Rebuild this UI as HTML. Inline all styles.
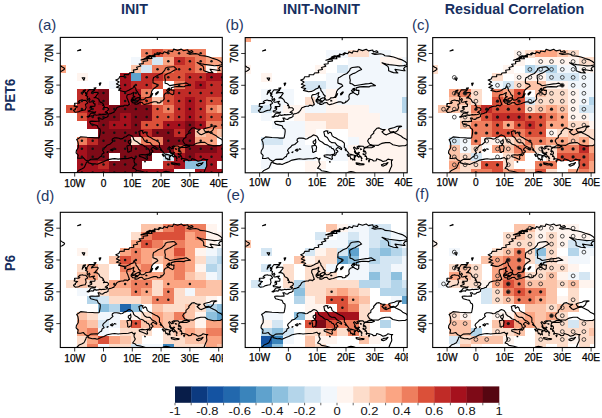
<!DOCTYPE html><html><head><meta charset="utf-8"><style>html,body{margin:0;padding:0;background:#fff}</style></head><body><svg width="602" height="418" viewBox="0 0 602 418" style="display:block;font-family:'Liberation Sans',sans-serif">
<rect width="602" height="418" fill="#fff"/>
<defs><path id="coast" d="M27.8,123.7 L25.1,122.5 L23.0,120.2 L20.4,120.9 L17.3,120.9 L17.9,117.7 L15.8,115.5 L16.1,113.2 L17.9,110.4 L18.1,107.5 L17.6,104.3 L16.4,102.1 L19.0,100.5 L20.4,99.3 L26.8,99.9 L32.3,100.2 L34.6,100.5 L38.0,100.5 L38.9,100.2 L39.7,96.4 L40.0,93.5 L39.7,91.6 L38.0,90.7 L36.9,88.1 L34.3,87.5 L30.5,86.5 L29.4,84.6 L29.7,84.0 L31.7,83.7 L35.1,84.0 L37.4,83.8 L38.9,83.8 L38.6,82.1 L37.7,80.5 L39.5,80.5 L40.0,81.4 L42.3,81.8 L43.5,81.1 L43.8,80.5 L46.4,79.8 L47.8,78.9 L47.8,77.3 L48.7,76.3 L50.1,76.2 L51.6,75.7 L52.4,75.2 L53.6,75.1 L53.9,73.8 L55.0,73.2 L56.7,70.1 L58.8,69.3 L61.1,68.7 L63.4,68.7 L63.9,67.8 L66.2,67.8 L67.1,68.4 L67.7,68.1 L68.3,67.1 L69.1,67.1 L68.8,65.9 L68.0,63.9 L67.4,62.0 L66.5,60.4 L66.5,58.5 L67.1,57.3 L70.6,56.6 L73.7,54.9 L73.4,56.0 L72.9,57.6 L72.9,58.5 L74.6,59.2 L72.9,59.8 L72.6,60.1 L72.0,61.4 L71.1,62.0 L70.8,63.6 L71.4,64.3 L72.6,65.5 L74.9,65.5 L74.6,66.8 L76.3,66.8 L78.0,66.2 L79.2,65.2 L81.8,64.9 L82.9,66.5 L84.4,67.1 L86.4,66.5 L88.1,66.2 L90.7,65.2 L93.6,64.3 L95.9,64.3 L97.3,64.9 L97.1,65.5 L99.1,65.5 L100.8,64.6 L100.5,63.6 L102.2,63.6 L104.0,61.4 L103.7,58.9 L104.0,57.3 L105.1,56.0 L108.3,54.9 L109.7,56.0 L112.3,57.3 L113.5,56.3 L113.5,54.4 L113.8,52.8 L111.2,52.8 L110.9,50.9 L110.9,50.3 L114.6,49.3 L118.1,49.0 L123.8,49.3 L125.3,48.4 L130.2,48.0 L128.7,47.1 L125.9,45.5 L123.3,46.1 L120.7,46.3 L115.2,47.2 L109.4,48.2 L107.1,46.4 L104.8,45.8 L104.8,44.2 L105.1,42.6 L104.5,40.4 L104.5,37.9 L108.0,35.9 L109.7,35.5 L113.5,33.1 L116.4,31.8 L114.0,29.4 L112.6,29.3 L107.1,29.9 L105.1,30.9 L104.5,32.8 L101.7,35.9 L97.9,37.5 L95.0,39.4 L93.3,40.1 L92.7,42.3 L92.7,45.5 L96.5,46.8 L97.6,48.4 L95.3,49.9 L92.7,51.9 L91.3,54.1 L91.3,55.0 L90.4,58.2 L89.3,59.8 L88.1,60.0 L85.5,60.3 L84.4,61.7 L82.9,62.4 L80.9,62.5 L80.4,61.7 L79.8,60.4 L79.5,59.5 L80.1,58.4 L78.3,56.9 L77.5,55.0 L75.7,52.8 L75.5,50.9 L74.6,50.3 L74.0,48.0 L73.2,49.6 L72.6,50.9 L72.0,50.9 L70.6,51.5 L68.5,52.8 L66.2,53.8 L63.4,54.1 L62.2,53.8 L58.2,52.8 L60.5,51.0 L56.1,49.9 L59.7,48.0 L56.1,46.6 L58.9,44.5 L55.5,42.5 L58.5,41.3 L59.5,39.1 L64.0,39.0 L63.9,37.1 L68.4,37.2 L69.3,35.4 L73.6,35.0 L73.0,32.7 L77.3,31.9 L76.3,29.9 L80.6,28.6 L78.9,26.6 L83.0,26.2 L82.8,24.0 L87.4,23.3 L86.4,21.2 L91.7,21.1 L90.6,19.2 L94.8,19.3 L94.2,16.5 L98.6,17.4 L99.0,15.3 L102.6,16.2 L103.8,14.3 L107.1,15.5 L108.0,13.4 L112.3,14.2 L113.4,11.7 L117.3,13.0 L121.0,11.7 L123.3,13.3 L127.5,12.4 L128.2,14.4 L131.6,13.2 L132.8,14.6 L129.6,15.6 L126.7,15.9 L129.6,16.9 L132.5,16.5 L135.4,16.2 L138.2,16.9 L139.7,18.1 L144.0,18.5 L148.3,19.4 L152.6,21.0 L157.0,22.3 L159.8,23.9 L161.9,25.8 L161.3,27.4 L158.4,28.0 L154.1,28.3 L149.8,27.7 L144.0,27.0 L141.1,26.4 L136.8,25.1 L139.7,27.0 L142.6,28.6 L143.4,30.5 L143.4,33.1 L145.4,34.0 L148.3,35.0 L152.6,35.3 L151.2,34.0 L149.8,31.8 L154.1,32.4 L158.4,33.1 L159.8,33.1 L158.4,31.2 L159.8,29.3 L164.2,28.3 M27.8,123.7 L30.5,121.8 L36.3,121.5 L37.2,121.8 L40.3,119.0 L41.2,119.0 L41.8,116.7 L43.8,115.5 L42.3,112.9 L43.2,111.3 L45.8,109.1 L46.7,107.8 L49.5,106.9 L52.7,104.0 L51.8,102.8 L52.1,101.5 L53.9,100.5 L56.4,100.5 L58.8,100.8 L60.2,101.5 L62.2,101.2 L64.2,99.6 L65.7,99.3 L67.7,97.7 L68.8,97.3 L71.4,98.3 L72.9,100.2 L73.4,102.1 L75.2,103.7 L77.2,104.7 L78.6,105.9 L79.5,106.7 L82.4,107.5 L84.1,108.8 L84.4,109.4 L85.8,109.3 L86.4,110.7 L88.1,111.3 L89.3,113.2 L89.6,115.5 L88.3,117.4 L89.6,118.0 L91.0,116.4 L91.0,115.2 L92.7,114.2 L92.2,112.9 L90.7,112.3 L91.0,111.3 L92.7,109.8 L95.0,111.3 L96.2,112.0 L96.5,110.9 L95.0,109.3 L91.9,107.8 L89.9,105.3 L89.0,105.1 L86.4,105.0 L84.1,103.4 L82.1,99.9 L79.5,98.3 L78.9,95.4 L78.6,94.2 L80.9,93.2 L82.9,93.4 L82.1,93.8 L82.9,96.1 L84.7,94.5 L86.1,95.4 L87.0,98.3 L89.0,99.6 L90.4,100.2 L93.0,101.8 L95.3,102.9 L97.1,103.7 L98.2,104.7 L99.1,105.6 L99.2,107.2 L99.1,109.8 L100.5,111.0 L100.8,112.0 L101.4,112.9 L102.8,114.5 L104.0,116.4 L105.7,116.7 L109.2,117.7 L105.7,117.1 L104.5,118.0 L105.4,120.2 L105.7,121.5 L106.8,120.9 L107.7,122.6 L108.3,121.5 L109.7,122.6 L109.4,120.9 L108.9,119.3 L110.3,119.3 L109.4,118.0 L111.2,118.0 L112.3,118.8 L112.3,117.1 L110.3,115.5 L109.2,113.6 L110.3,113.9 L109.2,111.7 L108.3,110.1 L109.2,109.4 L110.6,110.7 L111.5,111.5 L112.3,111.0 L113.5,110.9 L111.7,109.4 L113.5,108.5 L117.8,108.6 L118.4,109.4 L120.1,109.8 L118.7,111.0 L118.7,111.3 L118.4,112.9 L120.1,113.6 L120.7,114.8 L120.7,116.4 L118.9,116.7 L121.0,118.7 L121.8,120.9 L124.4,121.5 L127.0,122.2 L128.4,123.4 L130.8,123.1 L131.6,121.2 L135.4,122.5 L137.7,123.9 L140.8,123.1 L142.8,121.5 L145.4,122.2 L147.5,122.2 L146.3,123.1 L146.3,125.7 L146.6,127.6 L146.3,129.0 L145.4,130.7 L144.6,132.7 L144.0,134.2 L143.4,136.8 M118.7,111.3 L120.1,110.1 L122.4,110.1 L126.4,110.1 L129.3,109.0 L126.7,108.2 L123.8,108.2 L121.8,109.1 L120.1,109.8 M127.0,107.5 L124.4,106.6 L122.4,103.4 L123.6,101.2 L125.6,100.2 L125.7,98.0 L128.7,95.4 L128.4,94.2 L131.6,90.7 L133.9,90.3 L135.4,91.3 L137.1,91.9 L140.0,91.9 L136.8,94.2 L139.4,96.7 L141.1,97.3 L141.7,97.0 L145.2,95.4 L148.3,94.8 L148.6,94.0 L145.2,94.5 L144.0,92.9 L143.4,91.6 L144.9,91.0 L149.2,89.9 L151.5,88.8 L155.2,88.4 L156.4,88.8 L153.5,90.0 L152.9,92.3 L150.9,94.2 L148.9,94.8 L150.6,95.8 L152.1,96.4 L155.8,98.3 L157.5,99.9 L161.3,101.8 L163.2,104.5 L163.0,106.1 L162.1,106.9 L159.8,108.2 L157.5,108.2 L153.8,108.5 L152.4,108.2 L147.7,107.2 L144.6,105.0 L140.5,105.0 L136.5,105.8 L134.8,106.7 L133.1,107.8 L130.2,107.7 L127.0,107.5 M15.6,136.8 L16.4,135.2 L18.7,132.8 L21.3,131.7 L23.6,130.4 L24.2,129.5 L25.5,126.6 L26.2,124.7 L27.9,124.4 L27.9,125.3 L32.0,126.5 L34.7,126.3 L36.9,126.9 L41.3,125.0 L43.5,124.2 L46.9,122.5 L52.0,121.5 L54.4,121.2 L57.9,121.7 L59.9,121.5 L63.1,121.2 L65.5,121.2 L68.0,121.0 L71.6,119.9 L72.9,121.4 L75.0,120.7 L73.7,122.8 L73.9,124.7 L75.0,126.6 L74.2,128.2 L72.3,130.7 L74.6,131.4 L75.2,132.0 L76.3,133.1 L81.2,133.9 L84.4,134.9 L86.7,135.8 M101.4,136.2 L102.5,135.0 L103.7,134.4 L105.7,133.9 L108.4,134.4 L109.7,134.9 L112.3,136.8 M26.8,79.4 L28.8,78.3 L30.2,76.3 L31.1,75.7 L34.6,75.7 L35.4,74.4 L34.0,74.9 L31.7,74.4 L28.5,74.3 L27.9,73.5 L29.7,72.8 L31.4,71.9 L31.4,70.3 L29.5,70.6 L30.8,69.5 L30.0,68.9 L31.4,69.0 L34.3,68.9 L34.6,68.6 L34.8,66.5 L34.0,66.5 L32.8,65.2 L34.3,63.8 L32.8,63.9 L30.5,64.6 L29.1,64.7 L28.5,63.6 L29.7,62.2 L29.1,60.8 L27.1,62.7 L26.8,60.8 L27.4,59.2 L25.3,58.2 L26.5,57.3 L26.5,55.4 L27.9,53.4 L28.8,52.2 L31.7,52.3 L34.4,52.0 L34.3,52.8 L31.7,54.4 L31.1,55.7 L33.4,55.0 L37.4,55.0 L38.0,55.7 L37.2,56.8 L36.0,58.5 L35.1,59.2 L35.7,59.5 L33.7,60.4 L35.7,60.3 L37.2,60.8 L37.4,61.1 L38.6,62.0 L39.2,63.6 L40.0,64.7 L41.5,65.2 L42.9,66.5 L43.5,68.1 L42.3,67.8 L43.8,68.6 L44.2,69.7 L43.2,70.3 L44.4,70.1 L46.9,70.1 L48.2,71.3 L48.2,71.7 L47.8,72.8 L46.9,73.5 L45.8,74.0 L44.9,74.8 L47.2,75.1 L47.1,76.0 L45.9,76.7 L43.9,77.1 L42.9,77.0 L40.9,77.3 L39.5,77.0 L38.6,77.3 L36.3,77.8 L34.8,77.3 L33.4,77.6 L32.8,78.9 L31.4,78.4 L29.4,78.9 L28.2,79.7 L26.8,79.4 M21.9,62.4 L23.3,63.0 L25.5,63.0 L26.8,64.6 L27.4,65.5 L26.2,66.5 L25.1,66.8 L25.6,68.9 L25.9,70.0 L25.3,71.3 L24.9,72.5 L23.0,72.7 L20.6,73.3 L19.3,73.8 L18.4,74.4 L15.0,74.9 L13.8,73.8 L13.2,72.8 L15.0,72.2 L15.3,71.3 L14.7,71.4 L16.1,70.0 L17.3,69.3 L13.8,68.7 L14.7,67.1 L14.1,66.8 L14.4,65.9 L16.7,65.9 L18.7,65.9 L19.6,64.9 L17.9,64.6 L19.3,63.1 L21.9,62.4 M-2.9,34.7 L0.0,34.0 L1.4,33.7 L3.5,32.4 L4.3,31.5 L3.7,30.5 L2.0,29.6 L0.6,28.6 L-0.6,28.0 L-2.9,27.4 M78.9,117.7 L81.8,117.1 L85.0,117.5 L88.1,116.7 L86.7,119.3 L87.3,120.9 L86.7,122.0 L84.4,120.9 L82.1,119.9 L79.2,119.0 L78.9,117.7 M69.7,107.4 L71.1,108.5 L71.4,109.8 L71.0,111.7 L70.8,113.9 L69.4,113.9 L68.7,114.8 L67.4,114.5 L67.4,111.7 L66.7,109.4 L66.8,108.3 L68.5,108.2 L69.7,107.4 M70.3,101.8 L70.7,104.7 L69.7,106.9 L68.0,105.3 L68.0,103.7 L70.0,102.8 L70.3,101.8 M110.9,125.3 L112.6,125.5 L115.2,126.0 L117.5,126.3 L118.9,126.5 L118.4,127.2 L114.6,127.4 L111.2,126.5 L110.9,125.3 M136.2,127.1 L138.0,126.6 L138.2,126.1 L140.8,126.0 L142.8,125.0 L141.1,127.2 L138.2,128.5 L136.5,128.0 L136.2,127.1 M50.1,112.6 L52.1,111.5 L53.1,112.3 L52.0,113.6 L50.1,112.6 M46.7,114.8 L47.8,114.2 L47.2,115.0 L46.7,114.8 M54.1,111.2 L55.6,111.7 L54.4,111.7 L54.1,111.2 M75.2,61.4 L77.8,60.1 L79.5,60.4 L79.5,61.7 L78.3,63.0 L77.2,63.6 L75.5,63.0 L75.2,61.4 M71.4,62.0 L73.7,61.7 L74.3,63.0 L72.3,63.5 L71.4,62.0 M74.9,64.1 L77.5,64.4 L76.0,64.7 L74.9,64.1 M95.3,56.3 L97.3,54.4 L98.2,54.4 L97.3,56.0 L95.6,57.4 L95.3,56.3 M90.4,59.8 L92.4,56.1 L91.9,57.3 L90.4,59.8 M106.3,53.1 L107.1,52.2 L110.0,52.2 L109.4,53.0 L107.1,54.1 L106.3,53.1 M107.7,51.2 L109.2,50.7 L109.4,51.5 L107.7,51.2 M109.4,114.5 L111.2,115.3 L112.9,115.8 L113.9,117.2 L112.3,116.6 L110.6,116.1 L109.4,114.5 M123.3,123.1 L124.4,122.8 L123.8,124.4 L123.3,123.1 M118.1,113.6 L119.5,113.6 L118.9,114.5 L118.1,113.6 M117.8,116.1 L118.4,116.1 L118.1,117.1 L117.8,116.1 M85.8,62.7 L86.7,63.3 L85.5,63.3 L85.8,62.7 M21.9,40.4 L24.5,40.4 L23.6,42.9 L21.9,40.4 M38.9,45.8 L40.6,45.5 L39.5,48.0 L38.9,45.8 M33.7,50.6 L35.7,50.3 L34.8,51.5 L33.7,50.6 M23.0,53.1 L25.3,52.5 L23.6,54.7 L22.2,56.0 L21.9,56.9 L23.0,53.1 M25.1,55.0 L25.3,56.6 L26.8,56.3 L25.1,55.0 M17.3,13.4 L20.2,12.1 L20.4,12.7 L17.3,13.4 M97.9,15.9 L100.2,15.3 L99.4,16.5 L97.9,15.9 M83.5,21.6 L87.8,19.4 L89.3,19.7 L85.8,21.6 L80.6,22.6 L83.5,21.6 M86.4,19.4 L89.3,18.1 L92.2,18.5 L86.4,19.4 M92.2,18.1 L95.0,17.2 L93.6,18.8 L92.2,18.1 M114.3,118.0 L115.2,118.7 L114.6,119.0 L114.3,118.0 M116.1,120.6 L116.9,120.6 L116.5,121.2 L116.1,120.6 M115.5,119.3 L116.4,119.5 L115.8,119.8 L115.5,119.3 M113.2,119.0 L113.8,119.5 L113.2,119.6 L113.2,119.0 M116.1,122.6 L116.6,122.8 L116.4,123.0 L116.1,122.6 M120.4,118.5 L121.1,118.7 L119.8,118.8 L120.4,118.5 M121.0,121.2 L121.8,121.5 L121.2,122.0 L121.0,121.2 M115.2,111.3 L116.4,111.7 L115.5,112.0 L115.2,111.3 M113.8,109.1 L114.6,109.1 L114.0,109.4 L113.8,109.1 M113.5,114.7 L114.3,115.2 L113.8,115.3 L113.5,114.7 M102.2,116.7 L103.1,117.4 L102.2,117.5 L102.0,117.1 L102.2,116.7 M99.9,112.1 L100.7,113.1 L101.1,113.2 L100.4,112.1 L99.9,112.1 M102.8,118.2 L103.7,118.7 L103.1,118.8 L102.8,118.2 M84.4,123.9 L85.1,124.4 L84.5,124.5 L84.4,123.9" fill="none" stroke="#000" stroke-width="1.12" stroke-linejoin="round" stroke-linecap="round"/>
<clipPath id="clip"><rect x="0" y="0" width="162.0" height="135.2"/></clipPath><clipPath id="clipt"><rect x="-60" y="-10" width="222.6" height="175.2"/></clipPath></defs>
<g transform="translate(60.3,37.4)">
<g clip-path="url(#clip)">
<g shape-rendering="crispEdges">
<rect x="81.00" y="11.93" width="11.10" height="8.25" fill="#ee7e5e"/>
<rect x="91.80" y="11.93" width="11.10" height="8.25" fill="#db5039"/>
<rect x="102.60" y="11.93" width="11.10" height="8.25" fill="#ee7e5e"/>
<rect x="113.40" y="11.93" width="11.10" height="8.25" fill="#ee7e5e"/>
<rect x="124.20" y="11.93" width="11.10" height="8.25" fill="#ee7e5e"/>
<rect x="135.00" y="11.93" width="11.10" height="8.25" fill="#ee7e5e"/>
<rect x="70.20" y="19.88" width="11.10" height="8.25" fill="#f2f7fc"/>
<rect x="81.00" y="19.88" width="11.10" height="8.25" fill="#fba583"/>
<rect x="91.80" y="19.88" width="11.10" height="8.25" fill="#d4e6f3"/>
<rect x="102.60" y="19.88" width="11.10" height="8.25" fill="#fba583"/>
<rect x="113.40" y="19.88" width="11.10" height="8.25" fill="#c02b27"/>
<rect x="124.20" y="19.88" width="11.10" height="8.25" fill="#db5039"/>
<rect x="135.00" y="19.88" width="11.10" height="8.25" fill="#ee7e5e"/>
<rect x="145.80" y="19.88" width="11.10" height="8.25" fill="#fba583"/>
<rect x="156.60" y="19.88" width="11.10" height="8.25" fill="#fba583"/>
<rect x="-5.40" y="27.84" width="11.10" height="8.25" fill="#fba583"/>
<rect x="70.20" y="27.84" width="11.10" height="8.25" fill="#fcc3a8"/>
<rect x="81.00" y="27.84" width="11.10" height="8.25" fill="#d4e6f3"/>
<rect x="91.80" y="27.84" width="11.10" height="8.25" fill="#ee7e5e"/>
<rect x="102.60" y="27.84" width="11.10" height="8.25" fill="#ee7e5e"/>
<rect x="113.40" y="27.84" width="11.10" height="8.25" fill="#db5039"/>
<rect x="124.20" y="27.84" width="11.10" height="8.25" fill="#db5039"/>
<rect x="135.00" y="27.84" width="11.10" height="8.25" fill="#ee7e5e"/>
<rect x="145.80" y="27.84" width="11.10" height="8.25" fill="#fff4ee"/>
<rect x="156.60" y="27.84" width="11.10" height="8.25" fill="#fba583"/>
<rect x="16.20" y="35.79" width="11.10" height="8.25" fill="#fff4ee"/>
<rect x="59.40" y="35.79" width="11.10" height="8.25" fill="#a5111d"/>
<rect x="70.20" y="35.79" width="11.10" height="8.25" fill="#5fa2cd"/>
<rect x="81.00" y="35.79" width="11.10" height="8.25" fill="#c02b27"/>
<rect x="91.80" y="35.79" width="11.10" height="8.25" fill="#c02b27"/>
<rect x="102.60" y="35.79" width="11.10" height="8.25" fill="#db5039"/>
<rect x="113.40" y="35.79" width="11.10" height="8.25" fill="#db5039"/>
<rect x="124.20" y="35.79" width="11.10" height="8.25" fill="#c02b27"/>
<rect x="135.00" y="35.79" width="11.10" height="8.25" fill="#c02b27"/>
<rect x="145.80" y="35.79" width="11.10" height="8.25" fill="#a5111d"/>
<rect x="156.60" y="35.79" width="11.10" height="8.25" fill="#a5111d"/>
<rect x="48.60" y="43.74" width="11.10" height="8.25" fill="#f2f7fc"/>
<rect x="59.40" y="43.74" width="11.10" height="8.25" fill="#a5111d"/>
<rect x="70.20" y="43.74" width="11.10" height="8.25" fill="#c02b27"/>
<rect x="81.00" y="43.74" width="11.10" height="8.25" fill="#c02b27"/>
<rect x="91.80" y="43.74" width="11.10" height="8.25" fill="#db5039"/>
<rect x="113.40" y="43.74" width="11.10" height="8.25" fill="#ee7e5e"/>
<rect x="124.20" y="43.74" width="11.10" height="8.25" fill="#c02b27"/>
<rect x="135.00" y="43.74" width="11.10" height="8.25" fill="#a5111d"/>
<rect x="145.80" y="43.74" width="11.10" height="8.25" fill="#c02b27"/>
<rect x="156.60" y="43.74" width="11.10" height="8.25" fill="#c02b27"/>
<rect x="16.20" y="51.69" width="11.10" height="8.25" fill="#c02b27"/>
<rect x="27.00" y="51.69" width="11.10" height="8.25" fill="#a5111d"/>
<rect x="37.80" y="51.69" width="11.10" height="8.25" fill="#7e0a17"/>
<rect x="59.40" y="51.69" width="11.10" height="8.25" fill="#a5111d"/>
<rect x="70.20" y="51.69" width="11.10" height="8.25" fill="#a5111d"/>
<rect x="81.00" y="51.69" width="11.10" height="8.25" fill="#ee7e5e"/>
<rect x="102.60" y="51.69" width="11.10" height="8.25" fill="#db5039"/>
<rect x="113.40" y="51.69" width="11.10" height="8.25" fill="#c02b27"/>
<rect x="124.20" y="51.69" width="11.10" height="8.25" fill="#c02b27"/>
<rect x="135.00" y="51.69" width="11.10" height="8.25" fill="#c02b27"/>
<rect x="145.80" y="51.69" width="11.10" height="8.25" fill="#c02b27"/>
<rect x="156.60" y="51.69" width="11.10" height="8.25" fill="#c02b27"/>
<rect x="16.20" y="59.65" width="11.10" height="8.25" fill="#c02b27"/>
<rect x="27.00" y="59.65" width="11.10" height="8.25" fill="#a5111d"/>
<rect x="37.80" y="59.65" width="11.10" height="8.25" fill="#7e0a17"/>
<rect x="59.40" y="59.65" width="11.10" height="8.25" fill="#a5111d"/>
<rect x="70.20" y="59.65" width="11.10" height="8.25" fill="#7e0a17"/>
<rect x="81.00" y="59.65" width="11.10" height="8.25" fill="#db5039"/>
<rect x="91.80" y="59.65" width="11.10" height="8.25" fill="#fcc3a8"/>
<rect x="102.60" y="59.65" width="11.10" height="8.25" fill="#db5039"/>
<rect x="113.40" y="59.65" width="11.10" height="8.25" fill="#c02b27"/>
<rect x="124.20" y="59.65" width="11.10" height="8.25" fill="#a5111d"/>
<rect x="135.00" y="59.65" width="11.10" height="8.25" fill="#c02b27"/>
<rect x="145.80" y="59.65" width="11.10" height="8.25" fill="#db5039"/>
<rect x="156.60" y="59.65" width="11.10" height="8.25" fill="#db5039"/>
<rect x="5.40" y="67.60" width="11.10" height="8.25" fill="#db5039"/>
<rect x="16.20" y="67.60" width="11.10" height="8.25" fill="#c02b27"/>
<rect x="27.00" y="67.60" width="11.10" height="8.25" fill="#a5111d"/>
<rect x="37.80" y="67.60" width="11.10" height="8.25" fill="#a5111d"/>
<rect x="48.60" y="67.60" width="11.10" height="8.25" fill="#7e0a17"/>
<rect x="59.40" y="67.60" width="11.10" height="8.25" fill="#7e0a17"/>
<rect x="70.20" y="67.60" width="11.10" height="8.25" fill="#7e0a17"/>
<rect x="81.00" y="67.60" width="11.10" height="8.25" fill="#7e0a17"/>
<rect x="91.80" y="67.60" width="11.10" height="8.25" fill="#db5039"/>
<rect x="102.60" y="67.60" width="11.10" height="8.25" fill="#ee7e5e"/>
<rect x="113.40" y="67.60" width="11.10" height="8.25" fill="#c02b27"/>
<rect x="124.20" y="67.60" width="11.10" height="8.25" fill="#a5111d"/>
<rect x="135.00" y="67.60" width="11.10" height="8.25" fill="#c02b27"/>
<rect x="145.80" y="67.60" width="11.10" height="8.25" fill="#ee7e5e"/>
<rect x="156.60" y="67.60" width="11.10" height="8.25" fill="#fba583"/>
<rect x="16.20" y="75.55" width="11.10" height="8.25" fill="#db5039"/>
<rect x="27.00" y="75.55" width="11.10" height="8.25" fill="#a5111d"/>
<rect x="37.80" y="75.55" width="11.10" height="8.25" fill="#7e0a17"/>
<rect x="48.60" y="75.55" width="11.10" height="8.25" fill="#7e0a17"/>
<rect x="59.40" y="75.55" width="11.10" height="8.25" fill="#a5111d"/>
<rect x="70.20" y="75.55" width="11.10" height="8.25" fill="#7e0a17"/>
<rect x="81.00" y="75.55" width="11.10" height="8.25" fill="#7e0a17"/>
<rect x="91.80" y="75.55" width="11.10" height="8.25" fill="#db5039"/>
<rect x="102.60" y="75.55" width="11.10" height="8.25" fill="#db5039"/>
<rect x="113.40" y="75.55" width="11.10" height="8.25" fill="#c02b27"/>
<rect x="124.20" y="75.55" width="11.10" height="8.25" fill="#a5111d"/>
<rect x="135.00" y="75.55" width="11.10" height="8.25" fill="#c02b27"/>
<rect x="145.80" y="75.55" width="11.10" height="8.25" fill="#db5039"/>
<rect x="156.60" y="75.55" width="11.10" height="8.25" fill="#db5039"/>
<rect x="27.00" y="83.51" width="11.10" height="8.25" fill="#a5111d"/>
<rect x="37.80" y="83.51" width="11.10" height="8.25" fill="#7e0a17"/>
<rect x="48.60" y="83.51" width="11.10" height="8.25" fill="#a5111d"/>
<rect x="59.40" y="83.51" width="11.10" height="8.25" fill="#a5111d"/>
<rect x="70.20" y="83.51" width="11.10" height="8.25" fill="#7e0a17"/>
<rect x="81.00" y="83.51" width="11.10" height="8.25" fill="#db5039"/>
<rect x="91.80" y="83.51" width="11.10" height="8.25" fill="#db5039"/>
<rect x="102.60" y="83.51" width="11.10" height="8.25" fill="#a5111d"/>
<rect x="113.40" y="83.51" width="11.10" height="8.25" fill="#a5111d"/>
<rect x="124.20" y="83.51" width="11.10" height="8.25" fill="#7e0a17"/>
<rect x="135.00" y="83.51" width="11.10" height="8.25" fill="#a5111d"/>
<rect x="145.80" y="83.51" width="11.10" height="8.25" fill="#ee7e5e"/>
<rect x="156.60" y="83.51" width="11.10" height="8.25" fill="#ee7e5e"/>
<rect x="37.80" y="91.46" width="11.10" height="8.25" fill="#7e0a17"/>
<rect x="48.60" y="91.46" width="11.10" height="8.25" fill="#7e0a17"/>
<rect x="59.40" y="91.46" width="11.10" height="8.25" fill="#7e0a17"/>
<rect x="70.20" y="91.46" width="11.10" height="8.25" fill="#7e0a17"/>
<rect x="81.00" y="91.46" width="11.10" height="8.25" fill="#c02b27"/>
<rect x="91.80" y="91.46" width="11.10" height="8.25" fill="#7e0a17"/>
<rect x="102.60" y="91.46" width="11.10" height="8.25" fill="#7e0a17"/>
<rect x="113.40" y="91.46" width="11.10" height="8.25" fill="#c02b27"/>
<rect x="124.20" y="91.46" width="11.10" height="8.25" fill="#7e0a17"/>
<rect x="135.00" y="91.46" width="11.10" height="8.25" fill="#fcc3a8"/>
<rect x="145.80" y="91.46" width="11.10" height="8.25" fill="#fba583"/>
<rect x="156.60" y="91.46" width="11.10" height="8.25" fill="#fcc3a8"/>
<rect x="16.20" y="99.41" width="11.10" height="8.25" fill="#ee7e5e"/>
<rect x="27.00" y="99.41" width="11.10" height="8.25" fill="#c02b27"/>
<rect x="37.80" y="99.41" width="11.10" height="8.25" fill="#7e0a17"/>
<rect x="48.60" y="99.41" width="11.10" height="8.25" fill="#7e0a17"/>
<rect x="59.40" y="99.41" width="11.10" height="8.25" fill="#7e0a17"/>
<rect x="70.20" y="99.41" width="11.10" height="8.25" fill="#fdddcb"/>
<rect x="81.00" y="99.41" width="11.10" height="8.25" fill="#ee7e5e"/>
<rect x="91.80" y="99.41" width="11.10" height="8.25" fill="#ee7e5e"/>
<rect x="102.60" y="99.41" width="11.10" height="8.25" fill="#7e0a17"/>
<rect x="113.40" y="99.41" width="11.10" height="8.25" fill="#7e0a17"/>
<rect x="124.20" y="99.41" width="11.10" height="8.25" fill="#7e0a17"/>
<rect x="135.00" y="99.41" width="11.10" height="8.25" fill="#fba583"/>
<rect x="145.80" y="99.41" width="11.10" height="8.25" fill="#fba583"/>
<rect x="16.20" y="107.36" width="11.10" height="8.25" fill="#a5111d"/>
<rect x="27.00" y="107.36" width="11.10" height="8.25" fill="#7e0a17"/>
<rect x="37.80" y="107.36" width="11.10" height="8.25" fill="#7e0a17"/>
<rect x="48.60" y="107.36" width="11.10" height="8.25" fill="#7e0a17"/>
<rect x="59.40" y="107.36" width="11.10" height="8.25" fill="#7e0a17"/>
<rect x="70.20" y="107.36" width="11.10" height="8.25" fill="#7e0a17"/>
<rect x="81.00" y="107.36" width="11.10" height="8.25" fill="#7e0a17"/>
<rect x="91.80" y="107.36" width="11.10" height="8.25" fill="#7e0a17"/>
<rect x="102.60" y="107.36" width="11.10" height="8.25" fill="#7e0a17"/>
<rect x="113.40" y="107.36" width="11.10" height="8.25" fill="#db5039"/>
<rect x="124.20" y="107.36" width="11.10" height="8.25" fill="#7e0a17"/>
<rect x="135.00" y="107.36" width="11.10" height="8.25" fill="#7e0a17"/>
<rect x="145.80" y="107.36" width="11.10" height="8.25" fill="#7e0a17"/>
<rect x="156.60" y="107.36" width="11.10" height="8.25" fill="#a5111d"/>
<rect x="16.20" y="115.32" width="11.10" height="8.25" fill="#a5111d"/>
<rect x="27.00" y="115.32" width="11.10" height="8.25" fill="#7e0a17"/>
<rect x="37.80" y="115.32" width="11.10" height="8.25" fill="#7e0a17"/>
<rect x="59.40" y="115.32" width="11.10" height="8.25" fill="#7e0a17"/>
<rect x="70.20" y="115.32" width="11.10" height="8.25" fill="#7e0a17"/>
<rect x="81.00" y="115.32" width="11.10" height="8.25" fill="#7e0a17"/>
<rect x="102.60" y="115.32" width="11.10" height="8.25" fill="#d4e6f3"/>
<rect x="113.40" y="115.32" width="11.10" height="8.25" fill="#a5111d"/>
<rect x="124.20" y="115.32" width="11.10" height="8.25" fill="#7e0a17"/>
<rect x="135.00" y="115.32" width="11.10" height="8.25" fill="#a5111d"/>
<rect x="145.80" y="115.32" width="11.10" height="8.25" fill="#a5111d"/>
<rect x="156.60" y="115.32" width="11.10" height="8.25" fill="#a5111d"/>
<rect x="16.20" y="123.27" width="11.10" height="8.25" fill="#a5111d"/>
<rect x="27.00" y="123.27" width="11.10" height="8.25" fill="#a5111d"/>
<rect x="37.80" y="123.27" width="11.10" height="8.25" fill="#c02b27"/>
<rect x="48.60" y="123.27" width="11.10" height="8.25" fill="#7e0a17"/>
<rect x="59.40" y="123.27" width="11.10" height="8.25" fill="#7e0a17"/>
<rect x="70.20" y="123.27" width="11.10" height="8.25" fill="#7e0a17"/>
<rect x="102.60" y="123.27" width="11.10" height="8.25" fill="#c02b27"/>
<rect x="113.40" y="123.27" width="11.10" height="8.25" fill="#a5111d"/>
<rect x="124.20" y="123.27" width="11.10" height="8.25" fill="#8dc0de"/>
<rect x="135.00" y="123.27" width="11.10" height="8.25" fill="#8dc0de"/>
<rect x="145.80" y="123.27" width="11.10" height="8.25" fill="#a5111d"/>
<rect x="16.20" y="131.22" width="11.10" height="8.25" fill="#a5111d"/>
<rect x="27.00" y="131.22" width="11.10" height="8.25" fill="#a5111d"/>
<rect x="37.80" y="131.22" width="11.10" height="8.25" fill="#a5111d"/>
<rect x="48.60" y="131.22" width="11.10" height="8.25" fill="#7e0a17"/>
<rect x="59.40" y="131.22" width="11.10" height="8.25" fill="#7e0a17"/>
<rect x="70.20" y="131.22" width="11.10" height="8.25" fill="#7e0a17"/>
<rect x="81.00" y="131.22" width="11.10" height="8.25" fill="#a5111d"/>
<rect x="91.80" y="131.22" width="11.10" height="8.25" fill="#a5111d"/>
<rect x="102.60" y="131.22" width="11.10" height="8.25" fill="#a5111d"/>
<rect x="135.00" y="131.22" width="11.10" height="8.25" fill="#a5111d"/>
<rect x="145.80" y="131.22" width="11.10" height="8.25" fill="#a5111d"/>
<rect x="156.60" y="131.22" width="11.10" height="8.25" fill="#a5111d"/>
</g>
<use href="#coast"/>
<circle cx="86.4" cy="15.9" r="1.25" fill="#111"/>
<circle cx="97.2" cy="15.9" r="1.25" fill="#111"/>
<circle cx="108.0" cy="15.9" r="1.25" fill="#111"/>
<circle cx="118.8" cy="15.9" r="1.25" fill="#111"/>
<circle cx="129.6" cy="15.9" r="1.25" fill="#111"/>
<circle cx="140.4" cy="15.9" r="1.25" fill="#111"/>
<circle cx="108.0" cy="23.9" r="1.25" fill="#111"/>
<circle cx="118.8" cy="23.9" r="1.25" fill="#111"/>
<circle cx="129.6" cy="23.9" r="1.25" fill="#111"/>
<circle cx="140.4" cy="23.9" r="1.25" fill="#111"/>
<circle cx="151.2" cy="23.9" r="1.25" fill="#111"/>
<circle cx="97.2" cy="31.8" r="1.25" fill="#111"/>
<circle cx="108.0" cy="31.8" r="1.25" fill="#111"/>
<circle cx="118.8" cy="31.8" r="1.25" fill="#111"/>
<circle cx="129.6" cy="31.8" r="1.25" fill="#111"/>
<circle cx="140.4" cy="31.8" r="1.25" fill="#111"/>
<circle cx="64.8" cy="39.8" r="1.25" fill="#111"/>
<circle cx="86.4" cy="39.8" r="1.25" fill="#111"/>
<circle cx="97.2" cy="39.8" r="1.25" fill="#111"/>
<circle cx="108.0" cy="39.8" r="1.25" fill="#111"/>
<circle cx="118.8" cy="39.8" r="1.25" fill="#111"/>
<circle cx="129.6" cy="39.8" r="1.25" fill="#111"/>
<circle cx="140.4" cy="39.8" r="1.25" fill="#111"/>
<circle cx="151.2" cy="39.8" r="1.25" fill="#111"/>
<circle cx="162.0" cy="39.8" r="1.25" fill="#111"/>
<circle cx="64.8" cy="47.7" r="1.25" fill="#111"/>
<circle cx="75.6" cy="47.7" r="1.25" fill="#111"/>
<circle cx="86.4" cy="47.7" r="1.25" fill="#111"/>
<circle cx="97.2" cy="47.7" r="1.25" fill="#111"/>
<circle cx="118.8" cy="47.7" r="1.25" fill="#111"/>
<circle cx="129.6" cy="47.7" r="1.25" fill="#111"/>
<circle cx="140.4" cy="47.7" r="1.25" fill="#111"/>
<circle cx="151.2" cy="47.7" r="1.25" fill="#111"/>
<circle cx="162.0" cy="47.7" r="1.25" fill="#111"/>
<circle cx="21.6" cy="55.7" r="1.25" fill="#111"/>
<circle cx="32.4" cy="55.7" r="1.25" fill="#111"/>
<circle cx="43.2" cy="55.7" r="1.25" fill="#111"/>
<circle cx="64.8" cy="55.7" r="1.25" fill="#111"/>
<circle cx="75.6" cy="55.7" r="1.25" fill="#111"/>
<circle cx="86.4" cy="55.7" r="1.25" fill="#111"/>
<circle cx="108.0" cy="55.7" r="1.25" fill="#111"/>
<circle cx="118.8" cy="55.7" r="1.25" fill="#111"/>
<circle cx="129.6" cy="55.7" r="1.25" fill="#111"/>
<circle cx="140.4" cy="55.7" r="1.25" fill="#111"/>
<circle cx="151.2" cy="55.7" r="1.25" fill="#111"/>
<circle cx="162.0" cy="55.7" r="1.25" fill="#111"/>
<circle cx="21.6" cy="63.6" r="1.25" fill="#111"/>
<circle cx="32.4" cy="63.6" r="1.25" fill="#111"/>
<circle cx="43.2" cy="63.6" r="1.25" fill="#111"/>
<circle cx="64.8" cy="63.6" r="1.25" fill="#111"/>
<circle cx="75.6" cy="63.6" r="1.25" fill="#111"/>
<circle cx="86.4" cy="63.6" r="1.25" fill="#111"/>
<circle cx="108.0" cy="63.6" r="1.25" fill="#111"/>
<circle cx="118.8" cy="63.6" r="1.25" fill="#111"/>
<circle cx="129.6" cy="63.6" r="1.25" fill="#111"/>
<circle cx="140.4" cy="63.6" r="1.25" fill="#111"/>
<circle cx="151.2" cy="63.6" r="1.25" fill="#111"/>
<circle cx="162.0" cy="63.6" r="1.25" fill="#111"/>
<circle cx="10.8" cy="71.6" r="1.25" fill="#111"/>
<circle cx="21.6" cy="71.6" r="1.25" fill="#111"/>
<circle cx="32.4" cy="71.6" r="1.25" fill="#111"/>
<circle cx="43.2" cy="71.6" r="1.25" fill="#111"/>
<circle cx="54.0" cy="71.6" r="1.25" fill="#111"/>
<circle cx="64.8" cy="71.6" r="1.25" fill="#111"/>
<circle cx="75.6" cy="71.6" r="1.25" fill="#111"/>
<circle cx="86.4" cy="71.6" r="1.25" fill="#111"/>
<circle cx="97.2" cy="71.6" r="1.25" fill="#111"/>
<circle cx="108.0" cy="71.6" r="1.25" fill="#111"/>
<circle cx="118.8" cy="71.6" r="1.25" fill="#111"/>
<circle cx="129.6" cy="71.6" r="1.25" fill="#111"/>
<circle cx="140.4" cy="71.6" r="1.25" fill="#111"/>
<circle cx="151.2" cy="71.6" r="1.25" fill="#111"/>
<circle cx="21.6" cy="79.5" r="1.25" fill="#111"/>
<circle cx="32.4" cy="79.5" r="1.25" fill="#111"/>
<circle cx="43.2" cy="79.5" r="1.25" fill="#111"/>
<circle cx="54.0" cy="79.5" r="1.25" fill="#111"/>
<circle cx="64.8" cy="79.5" r="1.25" fill="#111"/>
<circle cx="75.6" cy="79.5" r="1.25" fill="#111"/>
<circle cx="86.4" cy="79.5" r="1.25" fill="#111"/>
<circle cx="97.2" cy="79.5" r="1.25" fill="#111"/>
<circle cx="108.0" cy="79.5" r="1.25" fill="#111"/>
<circle cx="118.8" cy="79.5" r="1.25" fill="#111"/>
<circle cx="129.6" cy="79.5" r="1.25" fill="#111"/>
<circle cx="140.4" cy="79.5" r="1.25" fill="#111"/>
<circle cx="151.2" cy="79.5" r="1.25" fill="#111"/>
<circle cx="162.0" cy="79.5" r="1.25" fill="#111"/>
<circle cx="32.4" cy="87.5" r="1.25" fill="#111"/>
<circle cx="43.2" cy="87.5" r="1.25" fill="#111"/>
<circle cx="54.0" cy="87.5" r="1.25" fill="#111"/>
<circle cx="64.8" cy="87.5" r="1.25" fill="#111"/>
<circle cx="75.6" cy="87.5" r="1.25" fill="#111"/>
<circle cx="86.4" cy="87.5" r="1.25" fill="#111"/>
<circle cx="97.2" cy="87.5" r="1.25" fill="#111"/>
<circle cx="108.0" cy="87.5" r="1.25" fill="#111"/>
<circle cx="118.8" cy="87.5" r="1.25" fill="#111"/>
<circle cx="129.6" cy="87.5" r="1.25" fill="#111"/>
<circle cx="140.4" cy="87.5" r="1.25" fill="#111"/>
<circle cx="151.2" cy="87.5" r="1.25" fill="#111"/>
<circle cx="162.0" cy="87.5" r="1.25" fill="#111"/>
<circle cx="43.2" cy="95.4" r="1.25" fill="#111"/>
<circle cx="54.0" cy="95.4" r="1.25" fill="#111"/>
<circle cx="64.8" cy="95.4" r="1.25" fill="#111"/>
<circle cx="75.6" cy="95.4" r="1.25" fill="#111"/>
<circle cx="86.4" cy="95.4" r="1.25" fill="#111"/>
<circle cx="97.2" cy="95.4" r="1.25" fill="#111"/>
<circle cx="108.0" cy="95.4" r="1.25" fill="#111"/>
<circle cx="118.8" cy="95.4" r="1.25" fill="#111"/>
<circle cx="129.6" cy="95.4" r="1.25" fill="#111"/>
<circle cx="151.2" cy="95.4" r="1.25" fill="#111"/>
<circle cx="21.6" cy="103.4" r="1.25" fill="#111"/>
<circle cx="32.4" cy="103.4" r="1.25" fill="#111"/>
<circle cx="43.2" cy="103.4" r="1.25" fill="#111"/>
<circle cx="54.0" cy="103.4" r="1.25" fill="#111"/>
<circle cx="64.8" cy="103.4" r="1.25" fill="#111"/>
<circle cx="86.4" cy="103.4" r="1.25" fill="#111"/>
<circle cx="97.2" cy="103.4" r="1.25" fill="#111"/>
<circle cx="108.0" cy="103.4" r="1.25" fill="#111"/>
<circle cx="118.8" cy="103.4" r="1.25" fill="#111"/>
<circle cx="129.6" cy="103.4" r="1.25" fill="#111"/>
<circle cx="140.4" cy="103.4" r="1.25" fill="#111"/>
<circle cx="151.2" cy="103.4" r="1.25" fill="#111"/>
<circle cx="21.6" cy="111.3" r="1.25" fill="#111"/>
<circle cx="32.4" cy="111.3" r="1.25" fill="#111"/>
<circle cx="43.2" cy="111.3" r="1.25" fill="#111"/>
<circle cx="54.0" cy="111.3" r="1.25" fill="#111"/>
<circle cx="64.8" cy="111.3" r="1.25" fill="#111"/>
<circle cx="75.6" cy="111.3" r="1.25" fill="#111"/>
<circle cx="86.4" cy="111.3" r="1.25" fill="#111"/>
<circle cx="97.2" cy="111.3" r="1.25" fill="#111"/>
<circle cx="108.0" cy="111.3" r="1.25" fill="#111"/>
<circle cx="118.8" cy="111.3" r="1.25" fill="#111"/>
<circle cx="129.6" cy="111.3" r="1.25" fill="#111"/>
<circle cx="140.4" cy="111.3" r="1.25" fill="#111"/>
<circle cx="151.2" cy="111.3" r="1.25" fill="#111"/>
<circle cx="162.0" cy="111.3" r="1.25" fill="#111"/>
<circle cx="21.6" cy="119.3" r="1.25" fill="#111"/>
<circle cx="32.4" cy="119.3" r="1.25" fill="#111"/>
<circle cx="43.2" cy="119.3" r="1.25" fill="#111"/>
<circle cx="64.8" cy="119.3" r="1.25" fill="#111"/>
<circle cx="75.6" cy="119.3" r="1.25" fill="#111"/>
<circle cx="86.4" cy="119.3" r="1.25" fill="#111"/>
<circle cx="118.8" cy="119.3" r="1.25" fill="#111"/>
<circle cx="129.6" cy="119.3" r="1.25" fill="#111"/>
<circle cx="140.4" cy="119.3" r="1.25" fill="#111"/>
<circle cx="151.2" cy="119.3" r="1.25" fill="#111"/>
<circle cx="162.0" cy="119.3" r="1.25" fill="#111"/>
<circle cx="21.6" cy="127.2" r="1.25" fill="#111"/>
<circle cx="32.4" cy="127.2" r="1.25" fill="#111"/>
<circle cx="43.2" cy="127.2" r="1.25" fill="#111"/>
<circle cx="54.0" cy="127.2" r="1.25" fill="#111"/>
<circle cx="64.8" cy="127.2" r="1.25" fill="#111"/>
<circle cx="75.6" cy="127.2" r="1.25" fill="#111"/>
<circle cx="108.0" cy="127.2" r="1.25" fill="#111"/>
<circle cx="118.8" cy="127.2" r="1.25" fill="#111"/>
<circle cx="151.2" cy="127.2" r="1.25" fill="#111"/>
<circle cx="21.6" cy="135.2" r="1.25" fill="#111"/>
<circle cx="32.4" cy="135.2" r="1.25" fill="#111"/>
<circle cx="43.2" cy="135.2" r="1.25" fill="#111"/>
<circle cx="54.0" cy="135.2" r="1.25" fill="#111"/>
<circle cx="64.8" cy="135.2" r="1.25" fill="#111"/>
<circle cx="75.6" cy="135.2" r="1.25" fill="#111"/>
<circle cx="86.4" cy="135.2" r="1.25" fill="#111"/>
<circle cx="97.2" cy="135.2" r="1.25" fill="#111"/>
<circle cx="108.0" cy="135.2" r="1.25" fill="#111"/>
<circle cx="140.4" cy="135.2" r="1.25" fill="#111"/>
<circle cx="151.2" cy="135.2" r="1.25" fill="#111"/>
<circle cx="162.0" cy="135.2" r="1.25" fill="#111"/>
</g>
<rect x="0" y="0" width="162.0" height="135.2" fill="none" stroke="#000" stroke-width="1.1"/>
<line x1="97" y1="0" x2="97" y2="2.6" stroke="#000" stroke-width="1"/>
<line x1="14.4" y1="135.2" x2="14.4" y2="139.2" stroke="#000" stroke-width="0.8"/>
<g><text x="14.4" y="149.89999999999998" font-size="10.2" text-anchor="middle" fill="#000" stroke="#000" stroke-width="0.25">10W</text></g>
<line x1="43.2" y1="135.2" x2="43.2" y2="139.2" stroke="#000" stroke-width="0.8"/>
<g><text x="43.2" y="149.89999999999998" font-size="10.2" text-anchor="middle" fill="#000" stroke="#000" stroke-width="0.25">0</text></g>
<line x1="72.0" y1="135.2" x2="72.0" y2="139.2" stroke="#000" stroke-width="0.8"/>
<g><text x="72.0" y="149.89999999999998" font-size="10.2" text-anchor="middle" fill="#000" stroke="#000" stroke-width="0.25">10E</text></g>
<line x1="100.8" y1="135.2" x2="100.8" y2="139.2" stroke="#000" stroke-width="0.8"/>
<g><text x="100.8" y="149.89999999999998" font-size="10.2" text-anchor="middle" fill="#000" stroke="#000" stroke-width="0.25">20E</text></g>
<line x1="129.6" y1="135.2" x2="129.6" y2="139.2" stroke="#000" stroke-width="0.8"/>
<g><text x="129.6" y="149.89999999999998" font-size="10.2" text-anchor="middle" fill="#000" stroke="#000" stroke-width="0.25">30E</text></g>
<line x1="158.4" y1="135.2" x2="158.4" y2="139.2" stroke="#000" stroke-width="0.8"/>
<g><text x="158.4" y="149.89999999999998" font-size="10.2" text-anchor="middle" fill="#000" stroke="#000" stroke-width="0.25">40E</text></g>
<line x1="-4" y1="15.9" x2="0" y2="15.9" stroke="#000" stroke-width="0.8"/>
<text transform="translate(-7,15.9) rotate(-90)" font-size="10.3" text-anchor="middle" fill="#000" stroke="#000" stroke-width="0.25">70N</text>
<line x1="-4" y1="47.7" x2="0" y2="47.7" stroke="#000" stroke-width="0.8"/>
<text transform="translate(-7,47.7) rotate(-90)" font-size="10.3" text-anchor="middle" fill="#000" stroke="#000" stroke-width="0.25">60N</text>
<line x1="-4" y1="79.5" x2="0" y2="79.5" stroke="#000" stroke-width="0.8"/>
<text transform="translate(-7,79.5) rotate(-90)" font-size="10.3" text-anchor="middle" fill="#000" stroke="#000" stroke-width="0.25">50N</text>
<line x1="-4" y1="111.3" x2="0" y2="111.3" stroke="#000" stroke-width="0.8"/>
<text transform="translate(-7,111.3) rotate(-90)" font-size="10.3" text-anchor="middle" fill="#000" stroke="#000" stroke-width="0.25">40N</text>
</g>
<g transform="translate(245.2,37.6)">
<g clip-path="url(#clip)">
<g shape-rendering="crispEdges">
<rect x="-5.40" y="-3.98" width="11.10" height="8.25" fill="#fba583"/>
<rect x="81.00" y="11.93" width="11.10" height="8.25" fill="#f2f7fc"/>
<rect x="91.80" y="11.93" width="11.10" height="8.25" fill="#f2f7fc"/>
<rect x="102.60" y="11.93" width="11.10" height="8.25" fill="#fdddcb"/>
<rect x="113.40" y="11.93" width="11.10" height="8.25" fill="#fdddcb"/>
<rect x="124.20" y="11.93" width="11.10" height="8.25" fill="#f2f7fc"/>
<rect x="135.00" y="11.93" width="11.10" height="8.25" fill="#f2f7fc"/>
<rect x="102.60" y="19.88" width="11.10" height="8.25" fill="#f2f7fc"/>
<rect x="113.40" y="19.88" width="11.10" height="8.25" fill="#f2f7fc"/>
<rect x="124.20" y="19.88" width="11.10" height="8.25" fill="#f2f7fc"/>
<rect x="135.00" y="19.88" width="11.10" height="8.25" fill="#fff4ee"/>
<rect x="145.80" y="19.88" width="11.10" height="8.25" fill="#fff4ee"/>
<rect x="156.60" y="19.88" width="11.10" height="8.25" fill="#f2f7fc"/>
<rect x="-5.40" y="27.84" width="11.10" height="8.25" fill="#fff4ee"/>
<rect x="70.20" y="27.84" width="11.10" height="8.25" fill="#fff4ee"/>
<rect x="91.80" y="27.84" width="11.10" height="8.25" fill="#d4e6f3"/>
<rect x="102.60" y="27.84" width="11.10" height="8.25" fill="#f2f7fc"/>
<rect x="113.40" y="27.84" width="11.10" height="8.25" fill="#f2f7fc"/>
<rect x="124.20" y="27.84" width="11.10" height="8.25" fill="#f2f7fc"/>
<rect x="135.00" y="27.84" width="11.10" height="8.25" fill="#f2f7fc"/>
<rect x="145.80" y="27.84" width="11.10" height="8.25" fill="#f2f7fc"/>
<rect x="156.60" y="27.84" width="11.10" height="8.25" fill="#f2f7fc"/>
<rect x="16.20" y="35.79" width="11.10" height="8.25" fill="#fff4ee"/>
<rect x="81.00" y="35.79" width="11.10" height="8.25" fill="#f2f7fc"/>
<rect x="91.80" y="35.79" width="11.10" height="8.25" fill="#f2f7fc"/>
<rect x="102.60" y="35.79" width="11.10" height="8.25" fill="#f2f7fc"/>
<rect x="113.40" y="35.79" width="11.10" height="8.25" fill="#f2f7fc"/>
<rect x="124.20" y="35.79" width="11.10" height="8.25" fill="#f2f7fc"/>
<rect x="135.00" y="35.79" width="11.10" height="8.25" fill="#f2f7fc"/>
<rect x="145.80" y="35.79" width="11.10" height="8.25" fill="#f2f7fc"/>
<rect x="156.60" y="35.79" width="11.10" height="8.25" fill="#f2f7fc"/>
<rect x="59.40" y="43.74" width="11.10" height="8.25" fill="#d4e6f3"/>
<rect x="70.20" y="43.74" width="11.10" height="8.25" fill="#d4e6f3"/>
<rect x="81.00" y="43.74" width="11.10" height="8.25" fill="#f2f7fc"/>
<rect x="91.80" y="43.74" width="11.10" height="8.25" fill="#f2f7fc"/>
<rect x="102.60" y="43.74" width="11.10" height="8.25" fill="#f2f7fc"/>
<rect x="113.40" y="43.74" width="11.10" height="8.25" fill="#f2f7fc"/>
<rect x="124.20" y="43.74" width="11.10" height="8.25" fill="#f2f7fc"/>
<rect x="135.00" y="43.74" width="11.10" height="8.25" fill="#f2f7fc"/>
<rect x="145.80" y="43.74" width="11.10" height="8.25" fill="#f2f7fc"/>
<rect x="156.60" y="43.74" width="11.10" height="8.25" fill="#f2f7fc"/>
<rect x="16.20" y="51.69" width="11.10" height="8.25" fill="#f2f7fc"/>
<rect x="27.00" y="51.69" width="11.10" height="8.25" fill="#f2f7fc"/>
<rect x="37.80" y="51.69" width="11.10" height="8.25" fill="#f2f7fc"/>
<rect x="70.20" y="51.69" width="11.10" height="8.25" fill="#f2f7fc"/>
<rect x="81.00" y="51.69" width="11.10" height="8.25" fill="#fff4ee"/>
<rect x="91.80" y="51.69" width="11.10" height="8.25" fill="#f2f7fc"/>
<rect x="102.60" y="51.69" width="11.10" height="8.25" fill="#f2f7fc"/>
<rect x="113.40" y="51.69" width="11.10" height="8.25" fill="#f2f7fc"/>
<rect x="124.20" y="51.69" width="11.10" height="8.25" fill="#f2f7fc"/>
<rect x="135.00" y="51.69" width="11.10" height="8.25" fill="#f2f7fc"/>
<rect x="145.80" y="51.69" width="11.10" height="8.25" fill="#f2f7fc"/>
<rect x="156.60" y="51.69" width="11.10" height="8.25" fill="#f2f7fc"/>
<rect x="16.20" y="59.65" width="11.10" height="8.25" fill="#f2f7fc"/>
<rect x="27.00" y="59.65" width="11.10" height="8.25" fill="#f2f7fc"/>
<rect x="37.80" y="59.65" width="11.10" height="8.25" fill="#f2f7fc"/>
<rect x="59.40" y="59.65" width="11.10" height="8.25" fill="#fdddcb"/>
<rect x="70.20" y="59.65" width="11.10" height="8.25" fill="#f2f7fc"/>
<rect x="81.00" y="59.65" width="11.10" height="8.25" fill="#fff4ee"/>
<rect x="91.80" y="59.65" width="11.10" height="8.25" fill="#f2f7fc"/>
<rect x="102.60" y="59.65" width="11.10" height="8.25" fill="#f2f7fc"/>
<rect x="113.40" y="59.65" width="11.10" height="8.25" fill="#f2f7fc"/>
<rect x="124.20" y="59.65" width="11.10" height="8.25" fill="#f2f7fc"/>
<rect x="135.00" y="59.65" width="11.10" height="8.25" fill="#f2f7fc"/>
<rect x="145.80" y="59.65" width="11.10" height="8.25" fill="#f2f7fc"/>
<rect x="156.60" y="59.65" width="11.10" height="8.25" fill="#b4d5ea"/>
<rect x="5.40" y="67.60" width="11.10" height="8.25" fill="#d4e6f3"/>
<rect x="16.20" y="67.60" width="11.10" height="8.25" fill="#d4e6f3"/>
<rect x="27.00" y="67.60" width="11.10" height="8.25" fill="#f2f7fc"/>
<rect x="37.80" y="67.60" width="11.10" height="8.25" fill="#fff4ee"/>
<rect x="48.60" y="67.60" width="11.10" height="8.25" fill="#fff4ee"/>
<rect x="59.40" y="67.60" width="11.10" height="8.25" fill="#f2f7fc"/>
<rect x="70.20" y="67.60" width="11.10" height="8.25" fill="#f2f7fc"/>
<rect x="81.00" y="67.60" width="11.10" height="8.25" fill="#fff4ee"/>
<rect x="91.80" y="67.60" width="11.10" height="8.25" fill="#fff4ee"/>
<rect x="102.60" y="67.60" width="11.10" height="8.25" fill="#fff4ee"/>
<rect x="113.40" y="67.60" width="11.10" height="8.25" fill="#fff4ee"/>
<rect x="124.20" y="67.60" width="11.10" height="8.25" fill="#f2f7fc"/>
<rect x="135.00" y="67.60" width="11.10" height="8.25" fill="#f2f7fc"/>
<rect x="145.80" y="67.60" width="11.10" height="8.25" fill="#f2f7fc"/>
<rect x="156.60" y="67.60" width="11.10" height="8.25" fill="#b4d5ea"/>
<rect x="16.20" y="75.55" width="11.10" height="8.25" fill="#f2f7fc"/>
<rect x="48.60" y="75.55" width="11.10" height="8.25" fill="#fff4ee"/>
<rect x="59.40" y="75.55" width="11.10" height="8.25" fill="#fdddcb"/>
<rect x="70.20" y="75.55" width="11.10" height="8.25" fill="#fdddcb"/>
<rect x="81.00" y="75.55" width="11.10" height="8.25" fill="#fdddcb"/>
<rect x="91.80" y="75.55" width="11.10" height="8.25" fill="#fdddcb"/>
<rect x="102.60" y="75.55" width="11.10" height="8.25" fill="#fff4ee"/>
<rect x="113.40" y="75.55" width="11.10" height="8.25" fill="#fff4ee"/>
<rect x="124.20" y="75.55" width="11.10" height="8.25" fill="#fff4ee"/>
<rect x="135.00" y="75.55" width="11.10" height="8.25" fill="#f2f7fc"/>
<rect x="145.80" y="75.55" width="11.10" height="8.25" fill="#f2f7fc"/>
<rect x="156.60" y="75.55" width="11.10" height="8.25" fill="#f2f7fc"/>
<rect x="27.00" y="83.51" width="11.10" height="8.25" fill="#f2f7fc"/>
<rect x="37.80" y="83.51" width="11.10" height="8.25" fill="#f2f7fc"/>
<rect x="48.60" y="83.51" width="11.10" height="8.25" fill="#f2f7fc"/>
<rect x="59.40" y="83.51" width="11.10" height="8.25" fill="#fff4ee"/>
<rect x="70.20" y="83.51" width="11.10" height="8.25" fill="#fff4ee"/>
<rect x="81.00" y="83.51" width="11.10" height="8.25" fill="#fdddcb"/>
<rect x="91.80" y="83.51" width="11.10" height="8.25" fill="#fdddcb"/>
<rect x="102.60" y="83.51" width="11.10" height="8.25" fill="#fff4ee"/>
<rect x="113.40" y="83.51" width="11.10" height="8.25" fill="#fff4ee"/>
<rect x="124.20" y="83.51" width="11.10" height="8.25" fill="#fff4ee"/>
<rect x="135.00" y="83.51" width="11.10" height="8.25" fill="#f2f7fc"/>
<rect x="145.80" y="83.51" width="11.10" height="8.25" fill="#f2f7fc"/>
<rect x="156.60" y="83.51" width="11.10" height="8.25" fill="#f2f7fc"/>
<rect x="37.80" y="91.46" width="11.10" height="8.25" fill="#f2f7fc"/>
<rect x="48.60" y="91.46" width="11.10" height="8.25" fill="#f2f7fc"/>
<rect x="59.40" y="91.46" width="11.10" height="8.25" fill="#fff4ee"/>
<rect x="102.60" y="91.46" width="11.10" height="8.25" fill="#fff4ee"/>
<rect x="113.40" y="91.46" width="11.10" height="8.25" fill="#fff4ee"/>
<rect x="124.20" y="91.46" width="11.10" height="8.25" fill="#fff4ee"/>
<rect x="135.00" y="91.46" width="11.10" height="8.25" fill="#fff4ee"/>
<rect x="145.80" y="91.46" width="11.10" height="8.25" fill="#fff4ee"/>
<rect x="156.60" y="91.46" width="11.10" height="8.25" fill="#fff4ee"/>
<rect x="16.20" y="99.41" width="11.10" height="8.25" fill="#d4e6f3"/>
<rect x="27.00" y="99.41" width="11.10" height="8.25" fill="#d4e6f3"/>
<rect x="37.80" y="99.41" width="11.10" height="8.25" fill="#f2f7fc"/>
<rect x="48.60" y="99.41" width="11.10" height="8.25" fill="#f2f7fc"/>
<rect x="102.60" y="99.41" width="11.10" height="8.25" fill="#f2f7fc"/>
<rect x="113.40" y="99.41" width="11.10" height="8.25" fill="#fff4ee"/>
<rect x="124.20" y="99.41" width="11.10" height="8.25" fill="#fff4ee"/>
<rect x="135.00" y="99.41" width="11.10" height="8.25" fill="#fff4ee"/>
<rect x="145.80" y="99.41" width="11.10" height="8.25" fill="#fff4ee"/>
<rect x="156.60" y="99.41" width="11.10" height="8.25" fill="#fff4ee"/>
<rect x="16.20" y="107.36" width="11.10" height="8.25" fill="#f2f7fc"/>
<rect x="27.00" y="107.36" width="11.10" height="8.25" fill="#f2f7fc"/>
<rect x="37.80" y="107.36" width="11.10" height="8.25" fill="#f2f7fc"/>
<rect x="48.60" y="107.36" width="11.10" height="8.25" fill="#f2f7fc"/>
<rect x="59.40" y="107.36" width="11.10" height="8.25" fill="#f2f7fc"/>
<rect x="81.00" y="107.36" width="11.10" height="8.25" fill="#f2f7fc"/>
<rect x="91.80" y="107.36" width="11.10" height="8.25" fill="#f2f7fc"/>
<rect x="102.60" y="107.36" width="11.10" height="8.25" fill="#fff4ee"/>
<rect x="113.40" y="107.36" width="11.10" height="8.25" fill="#fff4ee"/>
<rect x="124.20" y="107.36" width="11.10" height="8.25" fill="#fff4ee"/>
<rect x="135.00" y="107.36" width="11.10" height="8.25" fill="#fff4ee"/>
<rect x="145.80" y="107.36" width="11.10" height="8.25" fill="#fff4ee"/>
<rect x="156.60" y="107.36" width="11.10" height="8.25" fill="#fff4ee"/>
<rect x="16.20" y="115.32" width="11.10" height="8.25" fill="#f2f7fc"/>
<rect x="27.00" y="115.32" width="11.10" height="8.25" fill="#f2f7fc"/>
<rect x="37.80" y="115.32" width="11.10" height="8.25" fill="#f2f7fc"/>
<rect x="48.60" y="115.32" width="11.10" height="8.25" fill="#f2f7fc"/>
<rect x="59.40" y="115.32" width="11.10" height="8.25" fill="#f2f7fc"/>
<rect x="81.00" y="115.32" width="11.10" height="8.25" fill="#f2f7fc"/>
<rect x="91.80" y="115.32" width="11.10" height="8.25" fill="#f2f7fc"/>
<rect x="102.60" y="115.32" width="11.10" height="8.25" fill="#fff4ee"/>
<rect x="113.40" y="115.32" width="11.10" height="8.25" fill="#fff4ee"/>
<rect x="124.20" y="115.32" width="11.10" height="8.25" fill="#fff4ee"/>
<rect x="135.00" y="115.32" width="11.10" height="8.25" fill="#fff4ee"/>
<rect x="145.80" y="115.32" width="11.10" height="8.25" fill="#fff4ee"/>
<rect x="156.60" y="115.32" width="11.10" height="8.25" fill="#fff4ee"/>
<rect x="16.20" y="123.27" width="11.10" height="8.25" fill="#f2f7fc"/>
<rect x="59.40" y="123.27" width="11.10" height="8.25" fill="#fff4ee"/>
<rect x="70.20" y="123.27" width="11.10" height="8.25" fill="#fff4ee"/>
<rect x="102.60" y="123.27" width="11.10" height="8.25" fill="#fff4ee"/>
<rect x="113.40" y="123.27" width="11.10" height="8.25" fill="#fff4ee"/>
<rect x="124.20" y="123.27" width="11.10" height="8.25" fill="#fff4ee"/>
<rect x="135.00" y="123.27" width="11.10" height="8.25" fill="#fff4ee"/>
<rect x="145.80" y="123.27" width="11.10" height="8.25" fill="#fff4ee"/>
<rect x="156.60" y="123.27" width="11.10" height="8.25" fill="#fff4ee"/>
<rect x="59.40" y="131.22" width="11.10" height="8.25" fill="#fff4ee"/>
<rect x="102.60" y="131.22" width="11.10" height="8.25" fill="#fff4ee"/>
<rect x="113.40" y="131.22" width="11.10" height="8.25" fill="#fff4ee"/>
<rect x="124.20" y="131.22" width="11.10" height="8.25" fill="#fff4ee"/>
<rect x="135.00" y="131.22" width="11.10" height="8.25" fill="#fff4ee"/>
<rect x="145.80" y="131.22" width="11.10" height="8.25" fill="#fff4ee"/>
<rect x="156.60" y="131.22" width="11.10" height="8.25" fill="#fff4ee"/>
</g>
<use href="#coast"/>
</g>
<rect x="0" y="0" width="162.0" height="135.2" fill="none" stroke="#000" stroke-width="1.1"/>
<line x1="97" y1="0" x2="97" y2="2.6" stroke="#000" stroke-width="1"/>
<line x1="14.4" y1="135.2" x2="14.4" y2="139.2" stroke="#000" stroke-width="0.8"/>
<g><text x="14.4" y="148.79999999999998" font-size="10.2" text-anchor="middle" fill="#000" stroke="#000" stroke-width="0.25">10W</text></g>
<line x1="43.2" y1="135.2" x2="43.2" y2="139.2" stroke="#000" stroke-width="0.8"/>
<g><text x="43.2" y="148.79999999999998" font-size="10.2" text-anchor="middle" fill="#000" stroke="#000" stroke-width="0.25">0</text></g>
<line x1="72.0" y1="135.2" x2="72.0" y2="139.2" stroke="#000" stroke-width="0.8"/>
<g><text x="72.0" y="148.79999999999998" font-size="10.2" text-anchor="middle" fill="#000" stroke="#000" stroke-width="0.25">10E</text></g>
<line x1="100.8" y1="135.2" x2="100.8" y2="139.2" stroke="#000" stroke-width="0.8"/>
<g><text x="100.8" y="148.79999999999998" font-size="10.2" text-anchor="middle" fill="#000" stroke="#000" stroke-width="0.25">20E</text></g>
<line x1="129.6" y1="135.2" x2="129.6" y2="139.2" stroke="#000" stroke-width="0.8"/>
<g><text x="129.6" y="148.79999999999998" font-size="10.2" text-anchor="middle" fill="#000" stroke="#000" stroke-width="0.25">30E</text></g>
<line x1="158.4" y1="135.2" x2="158.4" y2="139.2" stroke="#000" stroke-width="0.8"/>
<g><text x="158.4" y="148.79999999999998" font-size="10.2" text-anchor="middle" fill="#000" stroke="#000" stroke-width="0.25">40E</text></g>
<line x1="-4" y1="15.9" x2="0" y2="15.9" stroke="#000" stroke-width="0.8"/>
<text transform="translate(-7,15.9) rotate(-90)" font-size="10.3" text-anchor="middle" fill="#000" stroke="#000" stroke-width="0.25">70N</text>
<line x1="-4" y1="47.7" x2="0" y2="47.7" stroke="#000" stroke-width="0.8"/>
<text transform="translate(-7,47.7) rotate(-90)" font-size="10.3" text-anchor="middle" fill="#000" stroke="#000" stroke-width="0.25">60N</text>
<line x1="-4" y1="79.5" x2="0" y2="79.5" stroke="#000" stroke-width="0.8"/>
<text transform="translate(-7,79.5) rotate(-90)" font-size="10.3" text-anchor="middle" fill="#000" stroke="#000" stroke-width="0.25">50N</text>
<line x1="-4" y1="111.3" x2="0" y2="111.3" stroke="#000" stroke-width="0.8"/>
<text transform="translate(-7,111.3) rotate(-90)" font-size="10.3" text-anchor="middle" fill="#000" stroke="#000" stroke-width="0.25">40N</text>
</g>
<g transform="translate(432.7,37.6)">
<g clip-path="url(#clip)">
<g shape-rendering="crispEdges">
<rect x="81.00" y="11.93" width="11.10" height="8.25" fill="#fff4ee"/>
<rect x="91.80" y="11.93" width="11.10" height="8.25" fill="#fdddcb"/>
<rect x="102.60" y="11.93" width="11.10" height="8.25" fill="#fba583"/>
<rect x="113.40" y="11.93" width="11.10" height="8.25" fill="#fba583"/>
<rect x="124.20" y="11.93" width="11.10" height="8.25" fill="#fcc3a8"/>
<rect x="135.00" y="11.93" width="11.10" height="8.25" fill="#fdddcb"/>
<rect x="81.00" y="19.88" width="11.10" height="8.25" fill="#fff4ee"/>
<rect x="102.60" y="19.88" width="11.10" height="8.25" fill="#fff4ee"/>
<rect x="113.40" y="19.88" width="11.10" height="8.25" fill="#fff4ee"/>
<rect x="124.20" y="19.88" width="11.10" height="8.25" fill="#fff4ee"/>
<rect x="135.00" y="19.88" width="11.10" height="8.25" fill="#fff4ee"/>
<rect x="145.80" y="19.88" width="11.10" height="8.25" fill="#fdddcb"/>
<rect x="156.60" y="19.88" width="11.10" height="8.25" fill="#fdddcb"/>
<rect x="-5.40" y="27.84" width="11.10" height="8.25" fill="#fdddcb"/>
<rect x="70.20" y="27.84" width="11.10" height="8.25" fill="#fff4ee"/>
<rect x="91.80" y="27.84" width="11.10" height="8.25" fill="#b4d5ea"/>
<rect x="102.60" y="27.84" width="11.10" height="8.25" fill="#d4e6f3"/>
<rect x="113.40" y="27.84" width="11.10" height="8.25" fill="#b4d5ea"/>
<rect x="124.20" y="27.84" width="11.10" height="8.25" fill="#f2f7fc"/>
<rect x="135.00" y="27.84" width="11.10" height="8.25" fill="#f2f7fc"/>
<rect x="145.80" y="27.84" width="11.10" height="8.25" fill="#fff4ee"/>
<rect x="156.60" y="27.84" width="11.10" height="8.25" fill="#fff4ee"/>
<rect x="59.40" y="35.79" width="11.10" height="8.25" fill="#fdddcb"/>
<rect x="81.00" y="35.79" width="11.10" height="8.25" fill="#fff4ee"/>
<rect x="91.80" y="35.79" width="11.10" height="8.25" fill="#fff4ee"/>
<rect x="102.60" y="35.79" width="11.10" height="8.25" fill="#fff4ee"/>
<rect x="113.40" y="35.79" width="11.10" height="8.25" fill="#d4e6f3"/>
<rect x="124.20" y="35.79" width="11.10" height="8.25" fill="#d4e6f3"/>
<rect x="135.00" y="35.79" width="11.10" height="8.25" fill="#d4e6f3"/>
<rect x="145.80" y="35.79" width="11.10" height="8.25" fill="#f2f7fc"/>
<rect x="156.60" y="35.79" width="11.10" height="8.25" fill="#f2f7fc"/>
<rect x="59.40" y="43.74" width="11.10" height="8.25" fill="#f2f7fc"/>
<rect x="70.20" y="43.74" width="11.10" height="8.25" fill="#d4e6f3"/>
<rect x="81.00" y="43.74" width="11.10" height="8.25" fill="#fdddcb"/>
<rect x="91.80" y="43.74" width="11.10" height="8.25" fill="#fcc3a8"/>
<rect x="102.60" y="43.74" width="11.10" height="8.25" fill="#fcc3a8"/>
<rect x="113.40" y="43.74" width="11.10" height="8.25" fill="#fff4ee"/>
<rect x="124.20" y="43.74" width="11.10" height="8.25" fill="#fff4ee"/>
<rect x="135.00" y="43.74" width="11.10" height="8.25" fill="#f2f7fc"/>
<rect x="145.80" y="43.74" width="11.10" height="8.25" fill="#f2f7fc"/>
<rect x="156.60" y="43.74" width="11.10" height="8.25" fill="#f2f7fc"/>
<rect x="16.20" y="51.69" width="11.10" height="8.25" fill="#fba583"/>
<rect x="27.00" y="51.69" width="11.10" height="8.25" fill="#ee7e5e"/>
<rect x="37.80" y="51.69" width="11.10" height="8.25" fill="#fdddcb"/>
<rect x="59.40" y="51.69" width="11.10" height="8.25" fill="#ee7e5e"/>
<rect x="70.20" y="51.69" width="11.10" height="8.25" fill="#fba583"/>
<rect x="81.00" y="51.69" width="11.10" height="8.25" fill="#db5039"/>
<rect x="102.60" y="51.69" width="11.10" height="8.25" fill="#fcc3a8"/>
<rect x="113.40" y="51.69" width="11.10" height="8.25" fill="#fdddcb"/>
<rect x="124.20" y="51.69" width="11.10" height="8.25" fill="#fdddcb"/>
<rect x="135.00" y="51.69" width="11.10" height="8.25" fill="#fff4ee"/>
<rect x="145.80" y="51.69" width="11.10" height="8.25" fill="#f2f7fc"/>
<rect x="156.60" y="51.69" width="11.10" height="8.25" fill="#f2f7fc"/>
<rect x="16.20" y="59.65" width="11.10" height="8.25" fill="#fcc3a8"/>
<rect x="27.00" y="59.65" width="11.10" height="8.25" fill="#fcc3a8"/>
<rect x="37.80" y="59.65" width="11.10" height="8.25" fill="#fdddcb"/>
<rect x="59.40" y="59.65" width="11.10" height="8.25" fill="#db5039"/>
<rect x="70.20" y="59.65" width="11.10" height="8.25" fill="#ee7e5e"/>
<rect x="81.00" y="59.65" width="11.10" height="8.25" fill="#db5039"/>
<rect x="91.80" y="59.65" width="11.10" height="8.25" fill="#d4e6f3"/>
<rect x="102.60" y="59.65" width="11.10" height="8.25" fill="#fdddcb"/>
<rect x="113.40" y="59.65" width="11.10" height="8.25" fill="#fdddcb"/>
<rect x="124.20" y="59.65" width="11.10" height="8.25" fill="#fdddcb"/>
<rect x="135.00" y="59.65" width="11.10" height="8.25" fill="#fff4ee"/>
<rect x="145.80" y="59.65" width="11.10" height="8.25" fill="#f2f7fc"/>
<rect x="156.60" y="59.65" width="11.10" height="8.25" fill="#b4d5ea"/>
<rect x="5.40" y="67.60" width="11.10" height="8.25" fill="#fcc3a8"/>
<rect x="16.20" y="67.60" width="11.10" height="8.25" fill="#fcc3a8"/>
<rect x="27.00" y="67.60" width="11.10" height="8.25" fill="#fdddcb"/>
<rect x="37.80" y="67.60" width="11.10" height="8.25" fill="#ee7e5e"/>
<rect x="48.60" y="67.60" width="11.10" height="8.25" fill="#c02b27"/>
<rect x="59.40" y="67.60" width="11.10" height="8.25" fill="#db5039"/>
<rect x="70.20" y="67.60" width="11.10" height="8.25" fill="#db5039"/>
<rect x="81.00" y="67.60" width="11.10" height="8.25" fill="#db5039"/>
<rect x="91.80" y="67.60" width="11.10" height="8.25" fill="#fdddcb"/>
<rect x="102.60" y="67.60" width="11.10" height="8.25" fill="#fcc3a8"/>
<rect x="113.40" y="67.60" width="11.10" height="8.25" fill="#fba583"/>
<rect x="124.20" y="67.60" width="11.10" height="8.25" fill="#fcc3a8"/>
<rect x="135.00" y="67.60" width="11.10" height="8.25" fill="#fff4ee"/>
<rect x="145.80" y="67.60" width="11.10" height="8.25" fill="#d4e6f3"/>
<rect x="156.60" y="67.60" width="11.10" height="8.25" fill="#d4e6f3"/>
<rect x="27.00" y="75.55" width="11.10" height="8.25" fill="#fdddcb"/>
<rect x="37.80" y="75.55" width="11.10" height="8.25" fill="#fba583"/>
<rect x="48.60" y="75.55" width="11.10" height="8.25" fill="#db5039"/>
<rect x="59.40" y="75.55" width="11.10" height="8.25" fill="#c02b27"/>
<rect x="70.20" y="75.55" width="11.10" height="8.25" fill="#c02b27"/>
<rect x="81.00" y="75.55" width="11.10" height="8.25" fill="#c02b27"/>
<rect x="91.80" y="75.55" width="11.10" height="8.25" fill="#db5039"/>
<rect x="102.60" y="75.55" width="11.10" height="8.25" fill="#db5039"/>
<rect x="113.40" y="75.55" width="11.10" height="8.25" fill="#ee7e5e"/>
<rect x="124.20" y="75.55" width="11.10" height="8.25" fill="#fba583"/>
<rect x="135.00" y="75.55" width="11.10" height="8.25" fill="#fff4ee"/>
<rect x="145.80" y="75.55" width="11.10" height="8.25" fill="#fff4ee"/>
<rect x="156.60" y="75.55" width="11.10" height="8.25" fill="#f2f7fc"/>
<rect x="27.00" y="83.51" width="11.10" height="8.25" fill="#fcc3a8"/>
<rect x="37.80" y="83.51" width="11.10" height="8.25" fill="#ee7e5e"/>
<rect x="48.60" y="83.51" width="11.10" height="8.25" fill="#ee7e5e"/>
<rect x="59.40" y="83.51" width="11.10" height="8.25" fill="#db5039"/>
<rect x="70.20" y="83.51" width="11.10" height="8.25" fill="#fba583"/>
<rect x="81.00" y="83.51" width="11.10" height="8.25" fill="#db5039"/>
<rect x="91.80" y="83.51" width="11.10" height="8.25" fill="#c02b27"/>
<rect x="102.60" y="83.51" width="11.10" height="8.25" fill="#db5039"/>
<rect x="113.40" y="83.51" width="11.10" height="8.25" fill="#fba583"/>
<rect x="124.20" y="83.51" width="11.10" height="8.25" fill="#fba583"/>
<rect x="135.00" y="83.51" width="11.10" height="8.25" fill="#fdddcb"/>
<rect x="145.80" y="83.51" width="11.10" height="8.25" fill="#fdddcb"/>
<rect x="156.60" y="83.51" width="11.10" height="8.25" fill="#fff4ee"/>
<rect x="37.80" y="91.46" width="11.10" height="8.25" fill="#ee7e5e"/>
<rect x="48.60" y="91.46" width="11.10" height="8.25" fill="#ee7e5e"/>
<rect x="59.40" y="91.46" width="11.10" height="8.25" fill="#db5039"/>
<rect x="70.20" y="91.46" width="11.10" height="8.25" fill="#db5039"/>
<rect x="81.00" y="91.46" width="11.10" height="8.25" fill="#ee7e5e"/>
<rect x="91.80" y="91.46" width="11.10" height="8.25" fill="#db5039"/>
<rect x="102.60" y="91.46" width="11.10" height="8.25" fill="#db5039"/>
<rect x="113.40" y="91.46" width="11.10" height="8.25" fill="#fff4ee"/>
<rect x="124.20" y="91.46" width="11.10" height="8.25" fill="#fdddcb"/>
<rect x="135.00" y="91.46" width="11.10" height="8.25" fill="#fcc3a8"/>
<rect x="145.80" y="91.46" width="11.10" height="8.25" fill="#fdddcb"/>
<rect x="156.60" y="91.46" width="11.10" height="8.25" fill="#fdddcb"/>
<rect x="16.20" y="99.41" width="11.10" height="8.25" fill="#d4e6f3"/>
<rect x="27.00" y="99.41" width="11.10" height="8.25" fill="#f2f7fc"/>
<rect x="37.80" y="99.41" width="11.10" height="8.25" fill="#ee7e5e"/>
<rect x="48.60" y="99.41" width="11.10" height="8.25" fill="#fff4ee"/>
<rect x="59.40" y="99.41" width="11.10" height="8.25" fill="#fff4ee"/>
<rect x="70.20" y="99.41" width="11.10" height="8.25" fill="#fdddcb"/>
<rect x="81.00" y="99.41" width="11.10" height="8.25" fill="#fcc3a8"/>
<rect x="91.80" y="99.41" width="11.10" height="8.25" fill="#ee7e5e"/>
<rect x="102.60" y="99.41" width="11.10" height="8.25" fill="#ee7e5e"/>
<rect x="113.40" y="99.41" width="11.10" height="8.25" fill="#fba583"/>
<rect x="124.20" y="99.41" width="11.10" height="8.25" fill="#fba583"/>
<rect x="135.00" y="99.41" width="11.10" height="8.25" fill="#fcc3a8"/>
<rect x="145.80" y="99.41" width="11.10" height="8.25" fill="#fba583"/>
<rect x="156.60" y="99.41" width="11.10" height="8.25" fill="#fdddcb"/>
<rect x="16.20" y="107.36" width="11.10" height="8.25" fill="#fcc3a8"/>
<rect x="27.00" y="107.36" width="11.10" height="8.25" fill="#f2f7fc"/>
<rect x="37.80" y="107.36" width="11.10" height="8.25" fill="#fdddcb"/>
<rect x="59.40" y="107.36" width="11.10" height="8.25" fill="#fba583"/>
<rect x="70.20" y="107.36" width="11.10" height="8.25" fill="#fcc3a8"/>
<rect x="81.00" y="107.36" width="11.10" height="8.25" fill="#ee7e5e"/>
<rect x="91.80" y="107.36" width="11.10" height="8.25" fill="#fba583"/>
<rect x="102.60" y="107.36" width="11.10" height="8.25" fill="#fdddcb"/>
<rect x="113.40" y="107.36" width="11.10" height="8.25" fill="#fdddcb"/>
<rect x="124.20" y="107.36" width="11.10" height="8.25" fill="#ee7e5e"/>
<rect x="135.00" y="107.36" width="11.10" height="8.25" fill="#ee7e5e"/>
<rect x="145.80" y="107.36" width="11.10" height="8.25" fill="#c02b27"/>
<rect x="156.60" y="107.36" width="11.10" height="8.25" fill="#fba583"/>
<rect x="16.20" y="115.32" width="11.10" height="8.25" fill="#fcc3a8"/>
<rect x="27.00" y="115.32" width="11.10" height="8.25" fill="#fdddcb"/>
<rect x="37.80" y="115.32" width="11.10" height="8.25" fill="#d4e6f3"/>
<rect x="70.20" y="115.32" width="11.10" height="8.25" fill="#fdddcb"/>
<rect x="81.00" y="115.32" width="11.10" height="8.25" fill="#fba583"/>
<rect x="113.40" y="115.32" width="11.10" height="8.25" fill="#fdddcb"/>
<rect x="124.20" y="115.32" width="11.10" height="8.25" fill="#db5039"/>
<rect x="135.00" y="115.32" width="11.10" height="8.25" fill="#db5039"/>
<rect x="145.80" y="115.32" width="11.10" height="8.25" fill="#db5039"/>
<rect x="156.60" y="115.32" width="11.10" height="8.25" fill="#ee7e5e"/>
<rect x="16.20" y="123.27" width="11.10" height="8.25" fill="#fba583"/>
<rect x="27.00" y="123.27" width="11.10" height="8.25" fill="#fdddcb"/>
<rect x="37.80" y="123.27" width="11.10" height="8.25" fill="#fdddcb"/>
<rect x="48.60" y="123.27" width="11.10" height="8.25" fill="#db5039"/>
<rect x="59.40" y="123.27" width="11.10" height="8.25" fill="#db5039"/>
<rect x="70.20" y="123.27" width="11.10" height="8.25" fill="#fdddcb"/>
<rect x="102.60" y="123.27" width="11.10" height="8.25" fill="#ee7e5e"/>
<rect x="113.40" y="123.27" width="11.10" height="8.25" fill="#ee7e5e"/>
<rect x="145.80" y="123.27" width="11.10" height="8.25" fill="#db5039"/>
<rect x="156.60" y="123.27" width="11.10" height="8.25" fill="#fba583"/>
<rect x="16.20" y="131.22" width="11.10" height="8.25" fill="#fcc3a8"/>
<rect x="27.00" y="131.22" width="11.10" height="8.25" fill="#fdddcb"/>
<rect x="37.80" y="131.22" width="11.10" height="8.25" fill="#ee7e5e"/>
<rect x="48.60" y="131.22" width="11.10" height="8.25" fill="#ee7e5e"/>
<rect x="59.40" y="131.22" width="11.10" height="8.25" fill="#db5039"/>
<rect x="70.20" y="131.22" width="11.10" height="8.25" fill="#fba583"/>
<rect x="81.00" y="131.22" width="11.10" height="8.25" fill="#ee7e5e"/>
<rect x="91.80" y="131.22" width="11.10" height="8.25" fill="#fdddcb"/>
<rect x="102.60" y="131.22" width="11.10" height="8.25" fill="#db5039"/>
<rect x="113.40" y="131.22" width="11.10" height="8.25" fill="#fdddcb"/>
<rect x="135.00" y="131.22" width="11.10" height="8.25" fill="#fba583"/>
<rect x="145.80" y="131.22" width="11.10" height="8.25" fill="#ee7e5e"/>
<rect x="156.60" y="131.22" width="11.10" height="8.25" fill="#fba583"/>
</g>
<use href="#coast"/>
<circle cx="86.4" cy="15.9" r="1.9" fill="none" stroke="#222" stroke-width="0.8"/>
<circle cx="140.4" cy="15.9" r="1.9" fill="none" stroke="#222" stroke-width="0.8"/>
<circle cx="108.0" cy="23.9" r="1.9" fill="none" stroke="#222" stroke-width="0.8"/>
<circle cx="118.8" cy="23.9" r="1.9" fill="none" stroke="#222" stroke-width="0.8"/>
<circle cx="129.6" cy="23.9" r="1.9" fill="none" stroke="#222" stroke-width="0.8"/>
<circle cx="140.4" cy="23.9" r="1.9" fill="none" stroke="#222" stroke-width="0.8"/>
<circle cx="151.2" cy="23.9" r="1.9" fill="none" stroke="#222" stroke-width="0.8"/>
<circle cx="97.2" cy="31.8" r="1.9" fill="none" stroke="#222" stroke-width="0.8"/>
<circle cx="108.0" cy="31.8" r="1.9" fill="none" stroke="#222" stroke-width="0.8"/>
<circle cx="118.8" cy="31.8" r="1.9" fill="none" stroke="#222" stroke-width="0.8"/>
<circle cx="129.6" cy="31.8" r="1.9" fill="none" stroke="#222" stroke-width="0.8"/>
<circle cx="140.4" cy="31.8" r="1.9" fill="none" stroke="#222" stroke-width="0.8"/>
<circle cx="151.2" cy="31.8" r="1.9" fill="none" stroke="#222" stroke-width="0.8"/>
<circle cx="21.6" cy="39.8" r="1.9" fill="none" stroke="#222" stroke-width="0.8"/>
<circle cx="86.4" cy="39.8" r="1.9" fill="none" stroke="#222" stroke-width="0.8"/>
<circle cx="97.2" cy="39.8" r="1.9" fill="none" stroke="#222" stroke-width="0.8"/>
<circle cx="108.0" cy="39.8" r="1.9" fill="none" stroke="#222" stroke-width="0.8"/>
<circle cx="118.8" cy="39.8" r="1.9" fill="none" stroke="#222" stroke-width="0.8"/>
<circle cx="129.6" cy="39.8" r="1.9" fill="none" stroke="#222" stroke-width="0.8"/>
<circle cx="140.4" cy="39.8" r="1.9" fill="none" stroke="#222" stroke-width="0.8"/>
<circle cx="151.2" cy="39.8" r="1.9" fill="none" stroke="#222" stroke-width="0.8"/>
<circle cx="64.8" cy="47.7" r="1.9" fill="none" stroke="#222" stroke-width="0.8"/>
<circle cx="75.6" cy="47.7" r="1.9" fill="none" stroke="#222" stroke-width="0.8"/>
<circle cx="86.4" cy="47.7" r="1.9" fill="none" stroke="#222" stroke-width="0.8"/>
<circle cx="129.6" cy="47.7" r="1.9" fill="none" stroke="#222" stroke-width="0.8"/>
<circle cx="129.6" cy="47.7" r="1.6" fill="#111"/>
<circle cx="140.4" cy="47.7" r="1.9" fill="none" stroke="#222" stroke-width="0.8"/>
<circle cx="151.2" cy="47.7" r="1.9" fill="none" stroke="#222" stroke-width="0.8"/>
<circle cx="21.6" cy="55.7" r="1.9" fill="none" stroke="#222" stroke-width="0.8"/>
<circle cx="32.4" cy="55.7" r="1.9" fill="none" stroke="#222" stroke-width="0.8"/>
<circle cx="32.4" cy="55.7" r="1.6" fill="#111"/>
<circle cx="43.2" cy="55.7" r="1.9" fill="none" stroke="#222" stroke-width="0.8"/>
<circle cx="86.4" cy="55.7" r="1.6" fill="#111"/>
<circle cx="108.0" cy="55.7" r="1.9" fill="none" stroke="#222" stroke-width="0.8"/>
<circle cx="118.8" cy="55.7" r="1.9" fill="none" stroke="#222" stroke-width="0.8"/>
<circle cx="129.6" cy="55.7" r="1.9" fill="none" stroke="#222" stroke-width="0.8"/>
<circle cx="140.4" cy="55.7" r="1.9" fill="none" stroke="#222" stroke-width="0.8"/>
<circle cx="151.2" cy="55.7" r="1.9" fill="none" stroke="#222" stroke-width="0.8"/>
<circle cx="43.2" cy="63.6" r="1.9" fill="none" stroke="#222" stroke-width="0.8"/>
<circle cx="64.8" cy="63.6" r="1.6" fill="#111"/>
<circle cx="75.6" cy="63.6" r="1.6" fill="#111"/>
<circle cx="86.4" cy="63.6" r="1.6" fill="#111"/>
<circle cx="97.2" cy="63.6" r="1.9" fill="none" stroke="#222" stroke-width="0.8"/>
<circle cx="108.0" cy="63.6" r="1.9" fill="none" stroke="#222" stroke-width="0.8"/>
<circle cx="118.8" cy="63.6" r="1.9" fill="none" stroke="#222" stroke-width="0.8"/>
<circle cx="129.6" cy="63.6" r="1.9" fill="none" stroke="#222" stroke-width="0.8"/>
<circle cx="140.4" cy="63.6" r="1.9" fill="none" stroke="#222" stroke-width="0.8"/>
<circle cx="151.2" cy="63.6" r="1.9" fill="none" stroke="#222" stroke-width="0.8"/>
<circle cx="10.8" cy="71.6" r="1.9" fill="none" stroke="#222" stroke-width="0.8"/>
<circle cx="21.6" cy="71.6" r="1.9" fill="none" stroke="#222" stroke-width="0.8"/>
<circle cx="43.2" cy="71.6" r="1.6" fill="#111"/>
<circle cx="54.0" cy="71.6" r="1.6" fill="#111"/>
<circle cx="64.8" cy="71.6" r="1.6" fill="#111"/>
<circle cx="75.6" cy="71.6" r="1.6" fill="#111"/>
<circle cx="86.4" cy="71.6" r="1.6" fill="#111"/>
<circle cx="97.2" cy="71.6" r="1.9" fill="none" stroke="#222" stroke-width="0.8"/>
<circle cx="108.0" cy="71.6" r="1.9" fill="none" stroke="#222" stroke-width="0.8"/>
<circle cx="118.8" cy="71.6" r="1.6" fill="#111"/>
<circle cx="129.6" cy="71.6" r="1.9" fill="none" stroke="#222" stroke-width="0.8"/>
<circle cx="140.4" cy="71.6" r="1.9" fill="none" stroke="#222" stroke-width="0.8"/>
<circle cx="151.2" cy="71.6" r="1.9" fill="none" stroke="#222" stroke-width="0.8"/>
<circle cx="21.6" cy="79.5" r="1.9" fill="none" stroke="#222" stroke-width="0.8"/>
<circle cx="32.4" cy="79.5" r="1.9" fill="none" stroke="#222" stroke-width="0.8"/>
<circle cx="54.0" cy="79.5" r="1.6" fill="#111"/>
<circle cx="64.8" cy="79.5" r="1.6" fill="#111"/>
<circle cx="75.6" cy="79.5" r="1.6" fill="#111"/>
<circle cx="86.4" cy="79.5" r="1.6" fill="#111"/>
<circle cx="97.2" cy="79.5" r="1.6" fill="#111"/>
<circle cx="108.0" cy="79.5" r="1.6" fill="#111"/>
<circle cx="118.8" cy="79.5" r="1.6" fill="#111"/>
<circle cx="129.6" cy="79.5" r="1.6" fill="#111"/>
<circle cx="140.4" cy="79.5" r="1.9" fill="none" stroke="#222" stroke-width="0.8"/>
<circle cx="151.2" cy="79.5" r="1.9" fill="none" stroke="#222" stroke-width="0.8"/>
<circle cx="32.4" cy="87.5" r="1.9" fill="none" stroke="#222" stroke-width="0.8"/>
<circle cx="43.2" cy="87.5" r="1.6" fill="#111"/>
<circle cx="54.0" cy="87.5" r="1.6" fill="#111"/>
<circle cx="64.8" cy="87.5" r="1.6" fill="#111"/>
<circle cx="75.6" cy="87.5" r="1.6" fill="#111"/>
<circle cx="86.4" cy="87.5" r="1.6" fill="#111"/>
<circle cx="97.2" cy="87.5" r="1.6" fill="#111"/>
<circle cx="108.0" cy="87.5" r="1.6" fill="#111"/>
<circle cx="118.8" cy="87.5" r="1.6" fill="#111"/>
<circle cx="129.6" cy="87.5" r="1.6" fill="#111"/>
<circle cx="140.4" cy="87.5" r="1.9" fill="none" stroke="#222" stroke-width="0.8"/>
<circle cx="151.2" cy="87.5" r="1.9" fill="none" stroke="#222" stroke-width="0.8"/>
<circle cx="43.2" cy="95.4" r="1.6" fill="#111"/>
<circle cx="54.0" cy="95.4" r="1.6" fill="#111"/>
<circle cx="64.8" cy="95.4" r="1.6" fill="#111"/>
<circle cx="75.6" cy="95.4" r="1.6" fill="#111"/>
<circle cx="86.4" cy="95.4" r="1.6" fill="#111"/>
<circle cx="97.2" cy="95.4" r="1.6" fill="#111"/>
<circle cx="108.0" cy="95.4" r="1.6" fill="#111"/>
<circle cx="118.8" cy="95.4" r="1.9" fill="none" stroke="#222" stroke-width="0.8"/>
<circle cx="21.6" cy="103.4" r="1.9" fill="none" stroke="#222" stroke-width="0.8"/>
<circle cx="32.4" cy="103.4" r="1.9" fill="none" stroke="#222" stroke-width="0.8"/>
<circle cx="43.2" cy="103.4" r="1.6" fill="#111"/>
<circle cx="54.0" cy="103.4" r="1.9" fill="none" stroke="#222" stroke-width="0.8"/>
<circle cx="64.8" cy="103.4" r="1.9" fill="none" stroke="#222" stroke-width="0.8"/>
<circle cx="75.6" cy="103.4" r="1.9" fill="none" stroke="#222" stroke-width="0.8"/>
<circle cx="86.4" cy="103.4" r="1.9" fill="none" stroke="#222" stroke-width="0.8"/>
<circle cx="97.2" cy="103.4" r="1.6" fill="#111"/>
<circle cx="108.0" cy="103.4" r="1.6" fill="#111"/>
<circle cx="118.8" cy="103.4" r="1.6" fill="#111"/>
<circle cx="129.6" cy="103.4" r="1.6" fill="#111"/>
<circle cx="140.4" cy="103.4" r="1.9" fill="none" stroke="#222" stroke-width="0.8"/>
<circle cx="151.2" cy="103.4" r="1.6" fill="#111"/>
<circle cx="21.6" cy="111.3" r="1.9" fill="none" stroke="#222" stroke-width="0.8"/>
<circle cx="32.4" cy="111.3" r="1.9" fill="none" stroke="#222" stroke-width="0.8"/>
<circle cx="43.2" cy="111.3" r="1.9" fill="none" stroke="#222" stroke-width="0.8"/>
<circle cx="64.8" cy="111.3" r="1.9" fill="none" stroke="#222" stroke-width="0.8"/>
<circle cx="75.6" cy="111.3" r="1.9" fill="none" stroke="#222" stroke-width="0.8"/>
<circle cx="97.2" cy="111.3" r="1.6" fill="#111"/>
<circle cx="108.0" cy="111.3" r="1.9" fill="none" stroke="#222" stroke-width="0.8"/>
<circle cx="129.6" cy="111.3" r="1.6" fill="#111"/>
<circle cx="140.4" cy="111.3" r="1.6" fill="#111"/>
<circle cx="151.2" cy="111.3" r="1.6" fill="#111"/>
<circle cx="21.6" cy="119.3" r="1.9" fill="none" stroke="#222" stroke-width="0.8"/>
<circle cx="32.4" cy="119.3" r="1.9" fill="none" stroke="#222" stroke-width="0.8"/>
<circle cx="43.2" cy="119.3" r="1.9" fill="none" stroke="#222" stroke-width="0.8"/>
<circle cx="64.8" cy="119.3" r="1.9" fill="none" stroke="#222" stroke-width="0.8"/>
<circle cx="75.6" cy="119.3" r="1.9" fill="none" stroke="#222" stroke-width="0.8"/>
<circle cx="129.6" cy="119.3" r="1.6" fill="#111"/>
<circle cx="140.4" cy="119.3" r="1.6" fill="#111"/>
<circle cx="151.2" cy="119.3" r="1.6" fill="#111"/>
<circle cx="21.6" cy="127.2" r="1.9" fill="none" stroke="#222" stroke-width="0.8"/>
<circle cx="32.4" cy="127.2" r="1.9" fill="none" stroke="#222" stroke-width="0.8"/>
<circle cx="43.2" cy="127.2" r="1.9" fill="none" stroke="#222" stroke-width="0.8"/>
<circle cx="54.0" cy="127.2" r="1.6" fill="#111"/>
<circle cx="64.8" cy="127.2" r="1.6" fill="#111"/>
<circle cx="75.6" cy="127.2" r="1.9" fill="none" stroke="#222" stroke-width="0.8"/>
<circle cx="108.0" cy="127.2" r="1.6" fill="#111"/>
<circle cx="118.8" cy="127.2" r="1.6" fill="#111"/>
<circle cx="151.2" cy="127.2" r="1.6" fill="#111"/>
<circle cx="43.2" cy="135.2" r="1.6" fill="#111"/>
<circle cx="108.0" cy="135.2" r="1.6" fill="#111"/>
</g>
<rect x="0" y="0" width="162.0" height="135.2" fill="none" stroke="#000" stroke-width="1.1"/>
<line x1="97" y1="0" x2="97" y2="2.6" stroke="#000" stroke-width="1"/>
<line x1="14.4" y1="135.2" x2="14.4" y2="139.2" stroke="#000" stroke-width="0.8"/>
<g><text x="14.4" y="148.79999999999998" font-size="10.2" text-anchor="middle" fill="#000" stroke="#000" stroke-width="0.25">10W</text></g>
<line x1="43.2" y1="135.2" x2="43.2" y2="139.2" stroke="#000" stroke-width="0.8"/>
<g><text x="43.2" y="148.79999999999998" font-size="10.2" text-anchor="middle" fill="#000" stroke="#000" stroke-width="0.25">0</text></g>
<line x1="72.0" y1="135.2" x2="72.0" y2="139.2" stroke="#000" stroke-width="0.8"/>
<g><text x="72.0" y="148.79999999999998" font-size="10.2" text-anchor="middle" fill="#000" stroke="#000" stroke-width="0.25">10E</text></g>
<line x1="100.8" y1="135.2" x2="100.8" y2="139.2" stroke="#000" stroke-width="0.8"/>
<g><text x="100.8" y="148.79999999999998" font-size="10.2" text-anchor="middle" fill="#000" stroke="#000" stroke-width="0.25">20E</text></g>
<line x1="129.6" y1="135.2" x2="129.6" y2="139.2" stroke="#000" stroke-width="0.8"/>
<g><text x="129.6" y="148.79999999999998" font-size="10.2" text-anchor="middle" fill="#000" stroke="#000" stroke-width="0.25">30E</text></g>
<line x1="158.4" y1="135.2" x2="158.4" y2="139.2" stroke="#000" stroke-width="0.8"/>
<g><text x="158.4" y="148.79999999999998" font-size="10.2" text-anchor="middle" fill="#000" stroke="#000" stroke-width="0.25">40E</text></g>
<line x1="-4" y1="15.9" x2="0" y2="15.9" stroke="#000" stroke-width="0.8"/>
<text transform="translate(-7,15.9) rotate(-90)" font-size="10.3" text-anchor="middle" fill="#000" stroke="#000" stroke-width="0.25">70N</text>
<line x1="-4" y1="47.7" x2="0" y2="47.7" stroke="#000" stroke-width="0.8"/>
<text transform="translate(-7,47.7) rotate(-90)" font-size="10.3" text-anchor="middle" fill="#000" stroke="#000" stroke-width="0.25">60N</text>
<line x1="-4" y1="79.5" x2="0" y2="79.5" stroke="#000" stroke-width="0.8"/>
<text transform="translate(-7,79.5) rotate(-90)" font-size="10.3" text-anchor="middle" fill="#000" stroke="#000" stroke-width="0.25">50N</text>
<line x1="-4" y1="111.3" x2="0" y2="111.3" stroke="#000" stroke-width="0.8"/>
<text transform="translate(-7,111.3) rotate(-90)" font-size="10.3" text-anchor="middle" fill="#000" stroke="#000" stroke-width="0.25">40N</text>
</g>
<g transform="translate(60.3,212.3)">
<g clip-path="url(#clip)">
<g shape-rendering="crispEdges">
<rect x="81.00" y="11.93" width="11.10" height="8.25" fill="#fcc3a8"/>
<rect x="91.80" y="11.93" width="11.10" height="8.25" fill="#fcc3a8"/>
<rect x="102.60" y="11.93" width="11.10" height="8.25" fill="#ee7e5e"/>
<rect x="113.40" y="11.93" width="11.10" height="8.25" fill="#db5039"/>
<rect x="124.20" y="11.93" width="11.10" height="8.25" fill="#ee7e5e"/>
<rect x="135.00" y="11.93" width="11.10" height="8.25" fill="#ee7e5e"/>
<rect x="145.80" y="11.93" width="11.10" height="8.25" fill="#fff4ee"/>
<rect x="70.20" y="19.88" width="11.10" height="8.25" fill="#fdddcb"/>
<rect x="81.00" y="19.88" width="11.10" height="8.25" fill="#ee7e5e"/>
<rect x="91.80" y="19.88" width="11.10" height="8.25" fill="#db5039"/>
<rect x="102.60" y="19.88" width="11.10" height="8.25" fill="#db5039"/>
<rect x="113.40" y="19.88" width="11.10" height="8.25" fill="#db5039"/>
<rect x="124.20" y="19.88" width="11.10" height="8.25" fill="#fba583"/>
<rect x="135.00" y="19.88" width="11.10" height="8.25" fill="#ee7e5e"/>
<rect x="145.80" y="19.88" width="11.10" height="8.25" fill="#fff4ee"/>
<rect x="156.60" y="19.88" width="11.10" height="8.25" fill="#fff4ee"/>
<rect x="70.20" y="27.84" width="11.10" height="8.25" fill="#fba583"/>
<rect x="81.00" y="27.84" width="11.10" height="8.25" fill="#db5039"/>
<rect x="91.80" y="27.84" width="11.10" height="8.25" fill="#ee7e5e"/>
<rect x="102.60" y="27.84" width="11.10" height="8.25" fill="#fba583"/>
<rect x="113.40" y="27.84" width="11.10" height="8.25" fill="#ee7e5e"/>
<rect x="124.20" y="27.84" width="11.10" height="8.25" fill="#fba583"/>
<rect x="135.00" y="27.84" width="11.10" height="8.25" fill="#fba583"/>
<rect x="145.80" y="27.84" width="11.10" height="8.25" fill="#fff4ee"/>
<rect x="16.20" y="35.79" width="11.10" height="8.25" fill="#fff4ee"/>
<rect x="59.40" y="35.79" width="11.10" height="8.25" fill="#fba583"/>
<rect x="70.20" y="35.79" width="11.10" height="8.25" fill="#ee7e5e"/>
<rect x="81.00" y="35.79" width="11.10" height="8.25" fill="#fba583"/>
<rect x="91.80" y="35.79" width="11.10" height="8.25" fill="#fba583"/>
<rect x="102.60" y="35.79" width="11.10" height="8.25" fill="#fba583"/>
<rect x="113.40" y="35.79" width="11.10" height="8.25" fill="#db5039"/>
<rect x="124.20" y="35.79" width="11.10" height="8.25" fill="#fba583"/>
<rect x="135.00" y="35.79" width="11.10" height="8.25" fill="#fff4ee"/>
<rect x="145.80" y="35.79" width="11.10" height="8.25" fill="#f2f7fc"/>
<rect x="156.60" y="35.79" width="11.10" height="8.25" fill="#d4e6f3"/>
<rect x="48.60" y="43.74" width="11.10" height="8.25" fill="#fcc3a8"/>
<rect x="59.40" y="43.74" width="11.10" height="8.25" fill="#db5039"/>
<rect x="70.20" y="43.74" width="11.10" height="8.25" fill="#ee7e5e"/>
<rect x="81.00" y="43.74" width="11.10" height="8.25" fill="#fba583"/>
<rect x="91.80" y="43.74" width="11.10" height="8.25" fill="#fcc3a8"/>
<rect x="102.60" y="43.74" width="11.10" height="8.25" fill="#fba583"/>
<rect x="113.40" y="43.74" width="11.10" height="8.25" fill="#ee7e5e"/>
<rect x="124.20" y="43.74" width="11.10" height="8.25" fill="#fba583"/>
<rect x="135.00" y="43.74" width="11.10" height="8.25" fill="#fdddcb"/>
<rect x="145.80" y="43.74" width="11.10" height="8.25" fill="#d4e6f3"/>
<rect x="156.60" y="43.74" width="11.10" height="8.25" fill="#b4d5ea"/>
<rect x="16.20" y="51.69" width="11.10" height="8.25" fill="#fdddcb"/>
<rect x="27.00" y="51.69" width="11.10" height="8.25" fill="#fba583"/>
<rect x="37.80" y="51.69" width="11.10" height="8.25" fill="#fdddcb"/>
<rect x="59.40" y="51.69" width="11.10" height="8.25" fill="#ee7e5e"/>
<rect x="70.20" y="51.69" width="11.10" height="8.25" fill="#fba583"/>
<rect x="81.00" y="51.69" width="11.10" height="8.25" fill="#ee7e5e"/>
<rect x="102.60" y="51.69" width="11.10" height="8.25" fill="#fba583"/>
<rect x="113.40" y="51.69" width="11.10" height="8.25" fill="#ee7e5e"/>
<rect x="124.20" y="51.69" width="11.10" height="8.25" fill="#fba583"/>
<rect x="135.00" y="51.69" width="11.10" height="8.25" fill="#fff4ee"/>
<rect x="145.80" y="51.69" width="11.10" height="8.25" fill="#b4d5ea"/>
<rect x="156.60" y="51.69" width="11.10" height="8.25" fill="#d4e6f3"/>
<rect x="16.20" y="59.65" width="11.10" height="8.25" fill="#fcc3a8"/>
<rect x="27.00" y="59.65" width="11.10" height="8.25" fill="#fba583"/>
<rect x="37.80" y="59.65" width="11.10" height="8.25" fill="#fdddcb"/>
<rect x="59.40" y="59.65" width="11.10" height="8.25" fill="#fba583"/>
<rect x="70.20" y="59.65" width="11.10" height="8.25" fill="#fba583"/>
<rect x="81.00" y="59.65" width="11.10" height="8.25" fill="#fba583"/>
<rect x="91.80" y="59.65" width="11.10" height="8.25" fill="#fba583"/>
<rect x="102.60" y="59.65" width="11.10" height="8.25" fill="#fba583"/>
<rect x="113.40" y="59.65" width="11.10" height="8.25" fill="#ee7e5e"/>
<rect x="124.20" y="59.65" width="11.10" height="8.25" fill="#fcc3a8"/>
<rect x="135.00" y="59.65" width="11.10" height="8.25" fill="#fdddcb"/>
<rect x="145.80" y="59.65" width="11.10" height="8.25" fill="#f2f7fc"/>
<rect x="156.60" y="59.65" width="11.10" height="8.25" fill="#d4e6f3"/>
<rect x="5.40" y="67.60" width="11.10" height="8.25" fill="#fdddcb"/>
<rect x="16.20" y="67.60" width="11.10" height="8.25" fill="#fcc3a8"/>
<rect x="27.00" y="67.60" width="11.10" height="8.25" fill="#fdddcb"/>
<rect x="37.80" y="67.60" width="11.10" height="8.25" fill="#fdddcb"/>
<rect x="48.60" y="67.60" width="11.10" height="8.25" fill="#fba583"/>
<rect x="59.40" y="67.60" width="11.10" height="8.25" fill="#fba583"/>
<rect x="70.20" y="67.60" width="11.10" height="8.25" fill="#ee7e5e"/>
<rect x="81.00" y="67.60" width="11.10" height="8.25" fill="#ee7e5e"/>
<rect x="91.80" y="67.60" width="11.10" height="8.25" fill="#fdddcb"/>
<rect x="102.60" y="67.60" width="11.10" height="8.25" fill="#fba583"/>
<rect x="113.40" y="67.60" width="11.10" height="8.25" fill="#fba583"/>
<rect x="124.20" y="67.60" width="11.10" height="8.25" fill="#fba583"/>
<rect x="135.00" y="67.60" width="11.10" height="8.25" fill="#fba583"/>
<rect x="145.80" y="67.60" width="11.10" height="8.25" fill="#fcc3a8"/>
<rect x="156.60" y="67.60" width="11.10" height="8.25" fill="#fcc3a8"/>
<rect x="16.20" y="75.55" width="11.10" height="8.25" fill="#f2f7fc"/>
<rect x="37.80" y="75.55" width="11.10" height="8.25" fill="#fdddcb"/>
<rect x="48.60" y="75.55" width="11.10" height="8.25" fill="#fcc3a8"/>
<rect x="59.40" y="75.55" width="11.10" height="8.25" fill="#fcc3a8"/>
<rect x="70.20" y="75.55" width="11.10" height="8.25" fill="#ee7e5e"/>
<rect x="81.00" y="75.55" width="11.10" height="8.25" fill="#fba583"/>
<rect x="91.80" y="75.55" width="11.10" height="8.25" fill="#fdddcb"/>
<rect x="102.60" y="75.55" width="11.10" height="8.25" fill="#ee7e5e"/>
<rect x="113.40" y="75.55" width="11.10" height="8.25" fill="#fdddcb"/>
<rect x="124.20" y="75.55" width="11.10" height="8.25" fill="#f2f7fc"/>
<rect x="135.00" y="75.55" width="11.10" height="8.25" fill="#fcc3a8"/>
<rect x="145.80" y="75.55" width="11.10" height="8.25" fill="#fcc3a8"/>
<rect x="156.60" y="75.55" width="11.10" height="8.25" fill="#fcc3a8"/>
<rect x="27.00" y="83.51" width="11.10" height="8.25" fill="#b4d5ea"/>
<rect x="37.80" y="83.51" width="11.10" height="8.25" fill="#d4e6f3"/>
<rect x="48.60" y="83.51" width="11.10" height="8.25" fill="#fdddcb"/>
<rect x="59.40" y="83.51" width="11.10" height="8.25" fill="#fdddcb"/>
<rect x="70.20" y="83.51" width="11.10" height="8.25" fill="#fdddcb"/>
<rect x="81.00" y="83.51" width="11.10" height="8.25" fill="#fcc3a8"/>
<rect x="91.80" y="83.51" width="11.10" height="8.25" fill="#ee7e5e"/>
<rect x="102.60" y="83.51" width="11.10" height="8.25" fill="#ee7e5e"/>
<rect x="113.40" y="83.51" width="11.10" height="8.25" fill="#fdddcb"/>
<rect x="124.20" y="83.51" width="11.10" height="8.25" fill="#fdddcb"/>
<rect x="135.00" y="83.51" width="11.10" height="8.25" fill="#fdddcb"/>
<rect x="145.80" y="83.51" width="11.10" height="8.25" fill="#fff4ee"/>
<rect x="37.80" y="91.46" width="11.10" height="8.25" fill="#8dc0de"/>
<rect x="48.60" y="91.46" width="11.10" height="8.25" fill="#b4d5ea"/>
<rect x="59.40" y="91.46" width="11.10" height="8.25" fill="#2268ad"/>
<rect x="70.20" y="91.46" width="11.10" height="8.25" fill="#8dc0de"/>
<rect x="91.80" y="91.46" width="11.10" height="8.25" fill="#fcc3a8"/>
<rect x="102.60" y="91.46" width="11.10" height="8.25" fill="#fdddcb"/>
<rect x="113.40" y="91.46" width="11.10" height="8.25" fill="#fdddcb"/>
<rect x="124.20" y="91.46" width="11.10" height="8.25" fill="#fcc3a8"/>
<rect x="135.00" y="91.46" width="11.10" height="8.25" fill="#fdddcb"/>
<rect x="145.80" y="91.46" width="11.10" height="8.25" fill="#b4d5ea"/>
<rect x="156.60" y="91.46" width="11.10" height="8.25" fill="#8dc0de"/>
<rect x="16.20" y="99.41" width="11.10" height="8.25" fill="#fcc3a8"/>
<rect x="27.00" y="99.41" width="11.10" height="8.25" fill="#fdddcb"/>
<rect x="37.80" y="99.41" width="11.10" height="8.25" fill="#f2f7fc"/>
<rect x="48.60" y="99.41" width="11.10" height="8.25" fill="#f2f7fc"/>
<rect x="70.20" y="99.41" width="11.10" height="8.25" fill="#fff4ee"/>
<rect x="81.00" y="99.41" width="11.10" height="8.25" fill="#fdddcb"/>
<rect x="91.80" y="99.41" width="11.10" height="8.25" fill="#fba583"/>
<rect x="102.60" y="99.41" width="11.10" height="8.25" fill="#fcc3a8"/>
<rect x="113.40" y="99.41" width="11.10" height="8.25" fill="#ee7e5e"/>
<rect x="124.20" y="99.41" width="11.10" height="8.25" fill="#fcc3a8"/>
<rect x="135.00" y="99.41" width="11.10" height="8.25" fill="#fff4ee"/>
<rect x="145.80" y="99.41" width="11.10" height="8.25" fill="#8dc0de"/>
<rect x="156.60" y="99.41" width="11.10" height="8.25" fill="#5fa2cd"/>
<rect x="16.20" y="107.36" width="11.10" height="8.25" fill="#fba583"/>
<rect x="27.00" y="107.36" width="11.10" height="8.25" fill="#fcc3a8"/>
<rect x="37.80" y="107.36" width="11.10" height="8.25" fill="#d4e6f3"/>
<rect x="48.60" y="107.36" width="11.10" height="8.25" fill="#f2f7fc"/>
<rect x="59.40" y="107.36" width="11.10" height="8.25" fill="#fcc3a8"/>
<rect x="70.20" y="107.36" width="11.10" height="8.25" fill="#db5039"/>
<rect x="81.00" y="107.36" width="11.10" height="8.25" fill="#fcc3a8"/>
<rect x="91.80" y="107.36" width="11.10" height="8.25" fill="#fba583"/>
<rect x="102.60" y="107.36" width="11.10" height="8.25" fill="#fcc3a8"/>
<rect x="113.40" y="107.36" width="11.10" height="8.25" fill="#fcc3a8"/>
<rect x="124.20" y="107.36" width="11.10" height="8.25" fill="#fcc3a8"/>
<rect x="135.00" y="107.36" width="11.10" height="8.25" fill="#fff4ee"/>
<rect x="145.80" y="107.36" width="11.10" height="8.25" fill="#fba583"/>
<rect x="156.60" y="107.36" width="11.10" height="8.25" fill="#fba583"/>
<rect x="16.20" y="115.32" width="11.10" height="8.25" fill="#fba583"/>
<rect x="27.00" y="115.32" width="11.10" height="8.25" fill="#ee7e5e"/>
<rect x="37.80" y="115.32" width="11.10" height="8.25" fill="#f2f7fc"/>
<rect x="59.40" y="115.32" width="11.10" height="8.25" fill="#fdddcb"/>
<rect x="70.20" y="115.32" width="11.10" height="8.25" fill="#fdddcb"/>
<rect x="81.00" y="115.32" width="11.10" height="8.25" fill="#fdddcb"/>
<rect x="102.60" y="115.32" width="11.10" height="8.25" fill="#fdddcb"/>
<rect x="113.40" y="115.32" width="11.10" height="8.25" fill="#fcc3a8"/>
<rect x="124.20" y="115.32" width="11.10" height="8.25" fill="#fba583"/>
<rect x="135.00" y="115.32" width="11.10" height="8.25" fill="#fcc3a8"/>
<rect x="145.80" y="115.32" width="11.10" height="8.25" fill="#ee7e5e"/>
<rect x="156.60" y="115.32" width="11.10" height="8.25" fill="#ee7e5e"/>
<rect x="16.20" y="123.27" width="11.10" height="8.25" fill="#fdddcb"/>
<rect x="27.00" y="123.27" width="11.10" height="8.25" fill="#fba583"/>
<rect x="37.80" y="123.27" width="11.10" height="8.25" fill="#db5039"/>
<rect x="48.60" y="123.27" width="11.10" height="8.25" fill="#fba583"/>
<rect x="59.40" y="123.27" width="11.10" height="8.25" fill="#fcc3a8"/>
<rect x="70.20" y="123.27" width="11.10" height="8.25" fill="#fdddcb"/>
<rect x="102.60" y="123.27" width="11.10" height="8.25" fill="#fdddcb"/>
<rect x="113.40" y="123.27" width="11.10" height="8.25" fill="#fdddcb"/>
<rect x="124.20" y="123.27" width="11.10" height="8.25" fill="#fcc3a8"/>
<rect x="135.00" y="123.27" width="11.10" height="8.25" fill="#fcc3a8"/>
<rect x="145.80" y="123.27" width="11.10" height="8.25" fill="#fba583"/>
<rect x="156.60" y="123.27" width="11.10" height="8.25" fill="#fba583"/>
<rect x="16.20" y="131.22" width="11.10" height="8.25" fill="#fdddcb"/>
<rect x="27.00" y="131.22" width="11.10" height="8.25" fill="#ee7e5e"/>
<rect x="37.80" y="131.22" width="11.10" height="8.25" fill="#f2f7fc"/>
<rect x="48.60" y="131.22" width="11.10" height="8.25" fill="#fdddcb"/>
<rect x="59.40" y="131.22" width="11.10" height="8.25" fill="#fdddcb"/>
<rect x="70.20" y="131.22" width="11.10" height="8.25" fill="#d4e6f3"/>
<rect x="81.00" y="131.22" width="11.10" height="8.25" fill="#f2f7fc"/>
<rect x="91.80" y="131.22" width="11.10" height="8.25" fill="#f2f7fc"/>
<rect x="102.60" y="131.22" width="11.10" height="8.25" fill="#3a84bb"/>
<rect x="113.40" y="131.22" width="11.10" height="8.25" fill="#fdddcb"/>
<rect x="124.20" y="131.22" width="11.10" height="8.25" fill="#fdddcb"/>
<rect x="135.00" y="131.22" width="11.10" height="8.25" fill="#fdddcb"/>
<rect x="145.80" y="131.22" width="11.10" height="8.25" fill="#fba583"/>
<rect x="156.60" y="131.22" width="11.10" height="8.25" fill="#fcc3a8"/>
</g>
<use href="#coast"/>
<circle cx="86.4" cy="31.8" r="1.25" fill="#111"/>
<circle cx="75.6" cy="39.8" r="1.25" fill="#111"/>
<circle cx="64.8" cy="47.7" r="1.25" fill="#111"/>
<circle cx="75.6" cy="47.7" r="1.25" fill="#111"/>
<circle cx="64.8" cy="55.7" r="1.25" fill="#111"/>
<circle cx="54.0" cy="71.6" r="1.25" fill="#111"/>
<circle cx="64.8" cy="71.6" r="1.25" fill="#111"/>
<circle cx="75.6" cy="71.6" r="1.25" fill="#111"/>
<circle cx="86.4" cy="71.6" r="1.25" fill="#111"/>
<circle cx="108.0" cy="71.6" r="1.25" fill="#111"/>
<circle cx="129.6" cy="71.6" r="1.25" fill="#111"/>
<circle cx="75.6" cy="79.5" r="1.25" fill="#111"/>
<circle cx="86.4" cy="79.5" r="1.25" fill="#111"/>
<circle cx="108.0" cy="79.5" r="1.25" fill="#111"/>
<circle cx="97.2" cy="87.5" r="1.25" fill="#111"/>
<circle cx="108.0" cy="87.5" r="1.25" fill="#111"/>
<circle cx="75.6" cy="111.3" r="1.25" fill="#111"/>
</g>
<rect x="0" y="0" width="162.0" height="135.2" fill="none" stroke="#000" stroke-width="1.1"/>
<line x1="97" y1="0" x2="97" y2="2.6" stroke="#000" stroke-width="1"/>
<line x1="14.4" y1="135.2" x2="14.4" y2="139.2" stroke="#000" stroke-width="0.8"/>
<g><text x="14.4" y="149.7" font-size="10.2" text-anchor="middle" fill="#000" stroke="#000" stroke-width="0.25">10W</text></g>
<line x1="43.2" y1="135.2" x2="43.2" y2="139.2" stroke="#000" stroke-width="0.8"/>
<g><text x="43.2" y="149.7" font-size="10.2" text-anchor="middle" fill="#000" stroke="#000" stroke-width="0.25">0</text></g>
<line x1="72.0" y1="135.2" x2="72.0" y2="139.2" stroke="#000" stroke-width="0.8"/>
<g><text x="72.0" y="149.7" font-size="10.2" text-anchor="middle" fill="#000" stroke="#000" stroke-width="0.25">10E</text></g>
<line x1="100.8" y1="135.2" x2="100.8" y2="139.2" stroke="#000" stroke-width="0.8"/>
<g><text x="100.8" y="149.7" font-size="10.2" text-anchor="middle" fill="#000" stroke="#000" stroke-width="0.25">20E</text></g>
<line x1="129.6" y1="135.2" x2="129.6" y2="139.2" stroke="#000" stroke-width="0.8"/>
<g><text x="129.6" y="149.7" font-size="10.2" text-anchor="middle" fill="#000" stroke="#000" stroke-width="0.25">30E</text></g>
<line x1="158.4" y1="135.2" x2="158.4" y2="139.2" stroke="#000" stroke-width="0.8"/>
<g clip-path="url(#clipt)"><text x="158.4" y="149.7" font-size="10.2" text-anchor="middle" fill="#000" stroke="#000" stroke-width="0.25">40E</text></g>
<line x1="-4" y1="15.9" x2="0" y2="15.9" stroke="#000" stroke-width="0.8"/>
<text transform="translate(-7,15.9) rotate(-90)" font-size="10.3" text-anchor="middle" fill="#000" stroke="#000" stroke-width="0.25">70N</text>
<line x1="-4" y1="47.7" x2="0" y2="47.7" stroke="#000" stroke-width="0.8"/>
<text transform="translate(-7,47.7) rotate(-90)" font-size="10.3" text-anchor="middle" fill="#000" stroke="#000" stroke-width="0.25">60N</text>
<line x1="-4" y1="79.5" x2="0" y2="79.5" stroke="#000" stroke-width="0.8"/>
<text transform="translate(-7,79.5) rotate(-90)" font-size="10.3" text-anchor="middle" fill="#000" stroke="#000" stroke-width="0.25">50N</text>
<line x1="-4" y1="111.3" x2="0" y2="111.3" stroke="#000" stroke-width="0.8"/>
<text transform="translate(-7,111.3) rotate(-90)" font-size="10.3" text-anchor="middle" fill="#000" stroke="#000" stroke-width="0.25">40N</text>
</g>
<g transform="translate(245.2,212.3)">
<g clip-path="url(#clip)">
<g shape-rendering="crispEdges">
<rect x="81.00" y="11.93" width="11.10" height="8.25" fill="#fcc3a8"/>
<rect x="91.80" y="11.93" width="11.10" height="8.25" fill="#fff4ee"/>
<rect x="102.60" y="11.93" width="11.10" height="8.25" fill="#f2f7fc"/>
<rect x="113.40" y="11.93" width="11.10" height="8.25" fill="#f2f7fc"/>
<rect x="124.20" y="11.93" width="11.10" height="8.25" fill="#d4e6f3"/>
<rect x="135.00" y="11.93" width="11.10" height="8.25" fill="#d4e6f3"/>
<rect x="70.20" y="19.88" width="11.10" height="8.25" fill="#d4e6f3"/>
<rect x="91.80" y="19.88" width="11.10" height="8.25" fill="#f2f7fc"/>
<rect x="102.60" y="19.88" width="11.10" height="8.25" fill="#d4e6f3"/>
<rect x="113.40" y="19.88" width="11.10" height="8.25" fill="#f2f7fc"/>
<rect x="124.20" y="19.88" width="11.10" height="8.25" fill="#d4e6f3"/>
<rect x="135.00" y="19.88" width="11.10" height="8.25" fill="#d4e6f3"/>
<rect x="145.80" y="19.88" width="11.10" height="8.25" fill="#f2f7fc"/>
<rect x="156.60" y="19.88" width="11.10" height="8.25" fill="#f2f7fc"/>
<rect x="-5.40" y="27.84" width="11.10" height="8.25" fill="#fcc3a8"/>
<rect x="70.20" y="27.84" width="11.10" height="8.25" fill="#f2f7fc"/>
<rect x="81.00" y="27.84" width="11.10" height="8.25" fill="#f2f7fc"/>
<rect x="91.80" y="27.84" width="11.10" height="8.25" fill="#f2f7fc"/>
<rect x="102.60" y="27.84" width="11.10" height="8.25" fill="#b4d5ea"/>
<rect x="113.40" y="27.84" width="11.10" height="8.25" fill="#f2f7fc"/>
<rect x="124.20" y="27.84" width="11.10" height="8.25" fill="#d4e6f3"/>
<rect x="135.00" y="27.84" width="11.10" height="8.25" fill="#b4d5ea"/>
<rect x="145.80" y="27.84" width="11.10" height="8.25" fill="#d4e6f3"/>
<rect x="156.60" y="27.84" width="11.10" height="8.25" fill="#f2f7fc"/>
<rect x="16.20" y="35.79" width="11.10" height="8.25" fill="#d4e6f3"/>
<rect x="59.40" y="35.79" width="11.10" height="8.25" fill="#d4e6f3"/>
<rect x="70.20" y="35.79" width="11.10" height="8.25" fill="#fff4ee"/>
<rect x="81.00" y="35.79" width="11.10" height="8.25" fill="#fdddcb"/>
<rect x="91.80" y="35.79" width="11.10" height="8.25" fill="#d4e6f3"/>
<rect x="102.60" y="35.79" width="11.10" height="8.25" fill="#5fa2cd"/>
<rect x="113.40" y="35.79" width="11.10" height="8.25" fill="#f2f7fc"/>
<rect x="124.20" y="35.79" width="11.10" height="8.25" fill="#b4d5ea"/>
<rect x="135.00" y="35.79" width="11.10" height="8.25" fill="#8dc0de"/>
<rect x="145.80" y="35.79" width="11.10" height="8.25" fill="#b4d5ea"/>
<rect x="156.60" y="35.79" width="11.10" height="8.25" fill="#d4e6f3"/>
<rect x="48.60" y="43.74" width="11.10" height="8.25" fill="#fcc3a8"/>
<rect x="59.40" y="43.74" width="11.10" height="8.25" fill="#fff4ee"/>
<rect x="70.20" y="43.74" width="11.10" height="8.25" fill="#fdddcb"/>
<rect x="81.00" y="43.74" width="11.10" height="8.25" fill="#fdddcb"/>
<rect x="91.80" y="43.74" width="11.10" height="8.25" fill="#5fa2cd"/>
<rect x="102.60" y="43.74" width="11.10" height="8.25" fill="#8dc0de"/>
<rect x="113.40" y="43.74" width="11.10" height="8.25" fill="#f2f7fc"/>
<rect x="124.20" y="43.74" width="11.10" height="8.25" fill="#b4d5ea"/>
<rect x="135.00" y="43.74" width="11.10" height="8.25" fill="#d4e6f3"/>
<rect x="145.80" y="43.74" width="11.10" height="8.25" fill="#d4e6f3"/>
<rect x="156.60" y="43.74" width="11.10" height="8.25" fill="#f2f7fc"/>
<rect x="16.20" y="51.69" width="11.10" height="8.25" fill="#d4e6f3"/>
<rect x="37.80" y="51.69" width="11.10" height="8.25" fill="#fdddcb"/>
<rect x="59.40" y="51.69" width="11.10" height="8.25" fill="#fdddcb"/>
<rect x="70.20" y="51.69" width="11.10" height="8.25" fill="#fdddcb"/>
<rect x="81.00" y="51.69" width="11.10" height="8.25" fill="#f2f7fc"/>
<rect x="102.60" y="51.69" width="11.10" height="8.25" fill="#f2f7fc"/>
<rect x="113.40" y="51.69" width="11.10" height="8.25" fill="#f2f7fc"/>
<rect x="124.20" y="51.69" width="11.10" height="8.25" fill="#d4e6f3"/>
<rect x="135.00" y="51.69" width="11.10" height="8.25" fill="#d4e6f3"/>
<rect x="145.80" y="51.69" width="11.10" height="8.25" fill="#f2f7fc"/>
<rect x="156.60" y="51.69" width="11.10" height="8.25" fill="#f2f7fc"/>
<rect x="37.80" y="59.65" width="11.10" height="8.25" fill="#fdddcb"/>
<rect x="59.40" y="59.65" width="11.10" height="8.25" fill="#fdddcb"/>
<rect x="70.20" y="59.65" width="11.10" height="8.25" fill="#fdddcb"/>
<rect x="81.00" y="59.65" width="11.10" height="8.25" fill="#fdddcb"/>
<rect x="102.60" y="59.65" width="11.10" height="8.25" fill="#f2f7fc"/>
<rect x="113.40" y="59.65" width="11.10" height="8.25" fill="#f2f7fc"/>
<rect x="124.20" y="59.65" width="11.10" height="8.25" fill="#8dc0de"/>
<rect x="135.00" y="59.65" width="11.10" height="8.25" fill="#d4e6f3"/>
<rect x="145.80" y="59.65" width="11.10" height="8.25" fill="#8dc0de"/>
<rect x="156.60" y="59.65" width="11.10" height="8.25" fill="#f2f7fc"/>
<rect x="5.40" y="67.60" width="11.10" height="8.25" fill="#d4e6f3"/>
<rect x="37.80" y="67.60" width="11.10" height="8.25" fill="#fdddcb"/>
<rect x="48.60" y="67.60" width="11.10" height="8.25" fill="#b4d5ea"/>
<rect x="59.40" y="67.60" width="11.10" height="8.25" fill="#fdddcb"/>
<rect x="70.20" y="67.60" width="11.10" height="8.25" fill="#fdddcb"/>
<rect x="81.00" y="67.60" width="11.10" height="8.25" fill="#fdddcb"/>
<rect x="91.80" y="67.60" width="11.10" height="8.25" fill="#fdddcb"/>
<rect x="102.60" y="67.60" width="11.10" height="8.25" fill="#fdddcb"/>
<rect x="113.40" y="67.60" width="11.10" height="8.25" fill="#b4d5ea"/>
<rect x="124.20" y="67.60" width="11.10" height="8.25" fill="#b4d5ea"/>
<rect x="135.00" y="67.60" width="11.10" height="8.25" fill="#d4e6f3"/>
<rect x="145.80" y="67.60" width="11.10" height="8.25" fill="#b4d5ea"/>
<rect x="156.60" y="67.60" width="11.10" height="8.25" fill="#d4e6f3"/>
<rect x="48.60" y="75.55" width="11.10" height="8.25" fill="#8dc0de"/>
<rect x="59.40" y="75.55" width="11.10" height="8.25" fill="#fdddcb"/>
<rect x="70.20" y="75.55" width="11.10" height="8.25" fill="#fdddcb"/>
<rect x="81.00" y="75.55" width="11.10" height="8.25" fill="#fcc3a8"/>
<rect x="91.80" y="75.55" width="11.10" height="8.25" fill="#fba583"/>
<rect x="102.60" y="75.55" width="11.10" height="8.25" fill="#fcc3a8"/>
<rect x="113.40" y="75.55" width="11.10" height="8.25" fill="#fdddcb"/>
<rect x="135.00" y="75.55" width="11.10" height="8.25" fill="#b4d5ea"/>
<rect x="145.80" y="75.55" width="11.10" height="8.25" fill="#b4d5ea"/>
<rect x="156.60" y="75.55" width="11.10" height="8.25" fill="#b4d5ea"/>
<rect x="48.60" y="83.51" width="11.10" height="8.25" fill="#b4d5ea"/>
<rect x="59.40" y="83.51" width="11.10" height="8.25" fill="#fff4ee"/>
<rect x="70.20" y="83.51" width="11.10" height="8.25" fill="#fdddcb"/>
<rect x="81.00" y="83.51" width="11.10" height="8.25" fill="#db5039"/>
<rect x="91.80" y="83.51" width="11.10" height="8.25" fill="#db5039"/>
<rect x="102.60" y="83.51" width="11.10" height="8.25" fill="#fba583"/>
<rect x="113.40" y="83.51" width="11.10" height="8.25" fill="#fcc3a8"/>
<rect x="145.80" y="83.51" width="11.10" height="8.25" fill="#f2f7fc"/>
<rect x="156.60" y="83.51" width="11.10" height="8.25" fill="#5fa2cd"/>
<rect x="59.40" y="91.46" width="11.10" height="8.25" fill="#fff4ee"/>
<rect x="70.20" y="91.46" width="11.10" height="8.25" fill="#fff4ee"/>
<rect x="91.80" y="91.46" width="11.10" height="8.25" fill="#db5039"/>
<rect x="102.60" y="91.46" width="11.10" height="8.25" fill="#ee7e5e"/>
<rect x="113.40" y="91.46" width="11.10" height="8.25" fill="#fdddcb"/>
<rect x="135.00" y="91.46" width="11.10" height="8.25" fill="#ee7e5e"/>
<rect x="16.20" y="99.41" width="11.10" height="8.25" fill="#f2f7fc"/>
<rect x="27.00" y="99.41" width="11.10" height="8.25" fill="#f2f7fc"/>
<rect x="48.60" y="99.41" width="11.10" height="8.25" fill="#8dc0de"/>
<rect x="59.40" y="99.41" width="11.10" height="8.25" fill="#fff4ee"/>
<rect x="70.20" y="99.41" width="11.10" height="8.25" fill="#a5111d"/>
<rect x="81.00" y="99.41" width="11.10" height="8.25" fill="#a5111d"/>
<rect x="91.80" y="99.41" width="11.10" height="8.25" fill="#a5111d"/>
<rect x="102.60" y="99.41" width="11.10" height="8.25" fill="#a5111d"/>
<rect x="113.40" y="99.41" width="11.10" height="8.25" fill="#fdddcb"/>
<rect x="16.20" y="107.36" width="11.10" height="8.25" fill="#fff4ee"/>
<rect x="27.00" y="107.36" width="11.10" height="8.25" fill="#d4e6f3"/>
<rect x="59.40" y="107.36" width="11.10" height="8.25" fill="#db5039"/>
<rect x="70.20" y="107.36" width="11.10" height="8.25" fill="#7e0a17"/>
<rect x="81.00" y="107.36" width="11.10" height="8.25" fill="#db5039"/>
<rect x="91.80" y="107.36" width="11.10" height="8.25" fill="#ee7e5e"/>
<rect x="102.60" y="107.36" width="11.10" height="8.25" fill="#ee7e5e"/>
<rect x="113.40" y="107.36" width="11.10" height="8.25" fill="#fdddcb"/>
<rect x="135.00" y="107.36" width="11.10" height="8.25" fill="#b4d5ea"/>
<rect x="16.20" y="115.32" width="11.10" height="8.25" fill="#b4d5ea"/>
<rect x="27.00" y="115.32" width="11.10" height="8.25" fill="#8dc0de"/>
<rect x="37.80" y="115.32" width="11.10" height="8.25" fill="#d4e6f3"/>
<rect x="59.40" y="115.32" width="11.10" height="8.25" fill="#fdddcb"/>
<rect x="70.20" y="115.32" width="11.10" height="8.25" fill="#fdddcb"/>
<rect x="81.00" y="115.32" width="11.10" height="8.25" fill="#fba583"/>
<rect x="91.80" y="115.32" width="11.10" height="8.25" fill="#fdddcb"/>
<rect x="102.60" y="115.32" width="11.10" height="8.25" fill="#ee7e5e"/>
<rect x="113.40" y="115.32" width="11.10" height="8.25" fill="#fdddcb"/>
<rect x="16.20" y="123.27" width="11.10" height="8.25" fill="#1453a2"/>
<rect x="27.00" y="123.27" width="11.10" height="8.25" fill="#3a84bb"/>
<rect x="37.80" y="123.27" width="11.10" height="8.25" fill="#f2f7fc"/>
<rect x="59.40" y="123.27" width="11.10" height="8.25" fill="#fcc3a8"/>
<rect x="70.20" y="123.27" width="11.10" height="8.25" fill="#fff4ee"/>
<rect x="81.00" y="123.27" width="11.10" height="8.25" fill="#fff4ee"/>
<rect x="113.40" y="123.27" width="11.10" height="8.25" fill="#fcc3a8"/>
<rect x="124.20" y="123.27" width="11.10" height="8.25" fill="#fff4ee"/>
<rect x="16.20" y="131.22" width="11.10" height="8.25" fill="#2268ad"/>
<rect x="27.00" y="131.22" width="11.10" height="8.25" fill="#8dc0de"/>
<rect x="59.40" y="131.22" width="11.10" height="8.25" fill="#fcc3a8"/>
<rect x="70.20" y="131.22" width="11.10" height="8.25" fill="#fdddcb"/>
</g>
<use href="#coast"/>
<circle cx="97.2" cy="47.7" r="1.25" fill="#111"/>
<circle cx="86.4" cy="79.5" r="1.25" fill="#111"/>
<circle cx="86.4" cy="87.5" r="1.25" fill="#111"/>
<circle cx="97.2" cy="87.5" r="1.25" fill="#111"/>
<circle cx="108.0" cy="87.5" r="1.25" fill="#111"/>
<circle cx="97.2" cy="95.4" r="1.25" fill="#111"/>
<circle cx="140.4" cy="95.4" r="1.25" fill="#111"/>
<circle cx="64.8" cy="111.3" r="1.25" fill="#111"/>
</g>
<rect x="0" y="0" width="162.0" height="135.2" fill="none" stroke="#000" stroke-width="1.1"/>
<line x1="97" y1="0" x2="97" y2="2.6" stroke="#000" stroke-width="1"/>
<line x1="14.4" y1="135.2" x2="14.4" y2="139.2" stroke="#000" stroke-width="0.8"/>
<g><text x="14.4" y="149.2" font-size="10.2" text-anchor="middle" fill="#000" stroke="#000" stroke-width="0.25">10W</text></g>
<line x1="43.2" y1="135.2" x2="43.2" y2="139.2" stroke="#000" stroke-width="0.8"/>
<g><text x="43.2" y="149.2" font-size="10.2" text-anchor="middle" fill="#000" stroke="#000" stroke-width="0.25">0</text></g>
<line x1="72.0" y1="135.2" x2="72.0" y2="139.2" stroke="#000" stroke-width="0.8"/>
<g><text x="72.0" y="149.2" font-size="10.2" text-anchor="middle" fill="#000" stroke="#000" stroke-width="0.25">10E</text></g>
<line x1="100.8" y1="135.2" x2="100.8" y2="139.2" stroke="#000" stroke-width="0.8"/>
<g><text x="100.8" y="149.2" font-size="10.2" text-anchor="middle" fill="#000" stroke="#000" stroke-width="0.25">20E</text></g>
<line x1="129.6" y1="135.2" x2="129.6" y2="139.2" stroke="#000" stroke-width="0.8"/>
<g><text x="129.6" y="149.2" font-size="10.2" text-anchor="middle" fill="#000" stroke="#000" stroke-width="0.25">30E</text></g>
<line x1="158.4" y1="135.2" x2="158.4" y2="139.2" stroke="#000" stroke-width="0.8"/>
<g clip-path="url(#clipt)"><text x="158.4" y="149.2" font-size="10.2" text-anchor="middle" fill="#000" stroke="#000" stroke-width="0.25">40E</text></g>
<line x1="-4" y1="15.9" x2="0" y2="15.9" stroke="#000" stroke-width="0.8"/>
<text transform="translate(-7,15.9) rotate(-90)" font-size="10.3" text-anchor="middle" fill="#000" stroke="#000" stroke-width="0.25">70N</text>
<line x1="-4" y1="47.7" x2="0" y2="47.7" stroke="#000" stroke-width="0.8"/>
<text transform="translate(-7,47.7) rotate(-90)" font-size="10.3" text-anchor="middle" fill="#000" stroke="#000" stroke-width="0.25">60N</text>
<line x1="-4" y1="79.5" x2="0" y2="79.5" stroke="#000" stroke-width="0.8"/>
<text transform="translate(-7,79.5) rotate(-90)" font-size="10.3" text-anchor="middle" fill="#000" stroke="#000" stroke-width="0.25">50N</text>
<line x1="-4" y1="111.3" x2="0" y2="111.3" stroke="#000" stroke-width="0.8"/>
<text transform="translate(-7,111.3) rotate(-90)" font-size="10.3" text-anchor="middle" fill="#000" stroke="#000" stroke-width="0.25">40N</text>
</g>
<g transform="translate(432.7,212.3)">
<g clip-path="url(#clip)">
<g shape-rendering="crispEdges">
<rect x="81.00" y="11.93" width="11.10" height="8.25" fill="#fcc3a8"/>
<rect x="91.80" y="11.93" width="11.10" height="8.25" fill="#fcc3a8"/>
<rect x="102.60" y="11.93" width="11.10" height="8.25" fill="#fff4ee"/>
<rect x="113.40" y="11.93" width="11.10" height="8.25" fill="#fff4ee"/>
<rect x="124.20" y="11.93" width="11.10" height="8.25" fill="#fff4ee"/>
<rect x="135.00" y="11.93" width="11.10" height="8.25" fill="#fff4ee"/>
<rect x="70.20" y="19.88" width="11.10" height="8.25" fill="#fdddcb"/>
<rect x="81.00" y="19.88" width="11.10" height="8.25" fill="#fcc3a8"/>
<rect x="91.80" y="19.88" width="11.10" height="8.25" fill="#fdddcb"/>
<rect x="102.60" y="19.88" width="11.10" height="8.25" fill="#fff4ee"/>
<rect x="113.40" y="19.88" width="11.10" height="8.25" fill="#fdddcb"/>
<rect x="124.20" y="19.88" width="11.10" height="8.25" fill="#fff4ee"/>
<rect x="135.00" y="19.88" width="11.10" height="8.25" fill="#fff4ee"/>
<rect x="145.80" y="19.88" width="11.10" height="8.25" fill="#fff4ee"/>
<rect x="-5.40" y="27.84" width="11.10" height="8.25" fill="#fff4ee"/>
<rect x="70.20" y="27.84" width="11.10" height="8.25" fill="#fdddcb"/>
<rect x="81.00" y="27.84" width="11.10" height="8.25" fill="#fdddcb"/>
<rect x="91.80" y="27.84" width="11.10" height="8.25" fill="#fdddcb"/>
<rect x="102.60" y="27.84" width="11.10" height="8.25" fill="#fff4ee"/>
<rect x="113.40" y="27.84" width="11.10" height="8.25" fill="#fdddcb"/>
<rect x="124.20" y="27.84" width="11.10" height="8.25" fill="#fff4ee"/>
<rect x="135.00" y="27.84" width="11.10" height="8.25" fill="#d4e6f3"/>
<rect x="145.80" y="27.84" width="11.10" height="8.25" fill="#d4e6f3"/>
<rect x="156.60" y="27.84" width="11.10" height="8.25" fill="#d4e6f3"/>
<rect x="16.20" y="35.79" width="11.10" height="8.25" fill="#f2f7fc"/>
<rect x="59.40" y="35.79" width="11.10" height="8.25" fill="#fdddcb"/>
<rect x="70.20" y="35.79" width="11.10" height="8.25" fill="#fcc3a8"/>
<rect x="81.00" y="35.79" width="11.10" height="8.25" fill="#ee7e5e"/>
<rect x="91.80" y="35.79" width="11.10" height="8.25" fill="#fdddcb"/>
<rect x="102.60" y="35.79" width="11.10" height="8.25" fill="#8dc0de"/>
<rect x="113.40" y="35.79" width="11.10" height="8.25" fill="#fdddcb"/>
<rect x="135.00" y="35.79" width="11.10" height="8.25" fill="#b4d5ea"/>
<rect x="145.80" y="35.79" width="11.10" height="8.25" fill="#f2f7fc"/>
<rect x="156.60" y="35.79" width="11.10" height="8.25" fill="#f2f7fc"/>
<rect x="48.60" y="43.74" width="11.10" height="8.25" fill="#fcc3a8"/>
<rect x="59.40" y="43.74" width="11.10" height="8.25" fill="#fba583"/>
<rect x="70.20" y="43.74" width="11.10" height="8.25" fill="#ee7e5e"/>
<rect x="81.00" y="43.74" width="11.10" height="8.25" fill="#ee7e5e"/>
<rect x="91.80" y="43.74" width="11.10" height="8.25" fill="#fdddcb"/>
<rect x="102.60" y="43.74" width="11.10" height="8.25" fill="#d4e6f3"/>
<rect x="113.40" y="43.74" width="11.10" height="8.25" fill="#fdddcb"/>
<rect x="124.20" y="43.74" width="11.10" height="8.25" fill="#fff4ee"/>
<rect x="135.00" y="43.74" width="11.10" height="8.25" fill="#f2f7fc"/>
<rect x="145.80" y="43.74" width="11.10" height="8.25" fill="#f2f7fc"/>
<rect x="16.20" y="51.69" width="11.10" height="8.25" fill="#fdddcb"/>
<rect x="27.00" y="51.69" width="11.10" height="8.25" fill="#fcc3a8"/>
<rect x="37.80" y="51.69" width="11.10" height="8.25" fill="#fdddcb"/>
<rect x="59.40" y="51.69" width="11.10" height="8.25" fill="#fba583"/>
<rect x="70.20" y="51.69" width="11.10" height="8.25" fill="#ee7e5e"/>
<rect x="81.00" y="51.69" width="11.10" height="8.25" fill="#ee7e5e"/>
<rect x="102.60" y="51.69" width="11.10" height="8.25" fill="#fdddcb"/>
<rect x="113.40" y="51.69" width="11.10" height="8.25" fill="#fdddcb"/>
<rect x="124.20" y="51.69" width="11.10" height="8.25" fill="#fdddcb"/>
<rect x="135.00" y="51.69" width="11.10" height="8.25" fill="#fff4ee"/>
<rect x="16.20" y="59.65" width="11.10" height="8.25" fill="#fba583"/>
<rect x="27.00" y="59.65" width="11.10" height="8.25" fill="#fcc3a8"/>
<rect x="37.80" y="59.65" width="11.10" height="8.25" fill="#fdddcb"/>
<rect x="59.40" y="59.65" width="11.10" height="8.25" fill="#fba583"/>
<rect x="70.20" y="59.65" width="11.10" height="8.25" fill="#ee7e5e"/>
<rect x="81.00" y="59.65" width="11.10" height="8.25" fill="#ee7e5e"/>
<rect x="91.80" y="59.65" width="11.10" height="8.25" fill="#fdddcb"/>
<rect x="102.60" y="59.65" width="11.10" height="8.25" fill="#fdddcb"/>
<rect x="113.40" y="59.65" width="11.10" height="8.25" fill="#fcc3a8"/>
<rect x="124.20" y="59.65" width="11.10" height="8.25" fill="#fff4ee"/>
<rect x="135.00" y="59.65" width="11.10" height="8.25" fill="#f2f7fc"/>
<rect x="145.80" y="59.65" width="11.10" height="8.25" fill="#d4e6f3"/>
<rect x="5.40" y="67.60" width="11.10" height="8.25" fill="#f2f7fc"/>
<rect x="16.20" y="67.60" width="11.10" height="8.25" fill="#fdddcb"/>
<rect x="27.00" y="67.60" width="11.10" height="8.25" fill="#fdddcb"/>
<rect x="37.80" y="67.60" width="11.10" height="8.25" fill="#fdddcb"/>
<rect x="48.60" y="67.60" width="11.10" height="8.25" fill="#fff4ee"/>
<rect x="59.40" y="67.60" width="11.10" height="8.25" fill="#fba583"/>
<rect x="70.20" y="67.60" width="11.10" height="8.25" fill="#db5039"/>
<rect x="81.00" y="67.60" width="11.10" height="8.25" fill="#ee7e5e"/>
<rect x="91.80" y="67.60" width="11.10" height="8.25" fill="#fcc3a8"/>
<rect x="102.60" y="67.60" width="11.10" height="8.25" fill="#fcc3a8"/>
<rect x="113.40" y="67.60" width="11.10" height="8.25" fill="#fcc3a8"/>
<rect x="124.20" y="67.60" width="11.10" height="8.25" fill="#fdddcb"/>
<rect x="135.00" y="67.60" width="11.10" height="8.25" fill="#fcc3a8"/>
<rect x="145.80" y="67.60" width="11.10" height="8.25" fill="#fff4ee"/>
<rect x="156.60" y="67.60" width="11.10" height="8.25" fill="#fff4ee"/>
<rect x="48.60" y="75.55" width="11.10" height="8.25" fill="#d4e6f3"/>
<rect x="59.40" y="75.55" width="11.10" height="8.25" fill="#fdddcb"/>
<rect x="70.20" y="75.55" width="11.10" height="8.25" fill="#ee7e5e"/>
<rect x="81.00" y="75.55" width="11.10" height="8.25" fill="#db5039"/>
<rect x="91.80" y="75.55" width="11.10" height="8.25" fill="#ee7e5e"/>
<rect x="102.60" y="75.55" width="11.10" height="8.25" fill="#ee7e5e"/>
<rect x="113.40" y="75.55" width="11.10" height="8.25" fill="#fcc3a8"/>
<rect x="135.00" y="75.55" width="11.10" height="8.25" fill="#fdddcb"/>
<rect x="48.60" y="83.51" width="11.10" height="8.25" fill="#d4e6f3"/>
<rect x="59.40" y="83.51" width="11.10" height="8.25" fill="#fdddcb"/>
<rect x="70.20" y="83.51" width="11.10" height="8.25" fill="#fcc3a8"/>
<rect x="81.00" y="83.51" width="11.10" height="8.25" fill="#ee7e5e"/>
<rect x="91.80" y="83.51" width="11.10" height="8.25" fill="#ee7e5e"/>
<rect x="102.60" y="83.51" width="11.10" height="8.25" fill="#fba583"/>
<rect x="113.40" y="83.51" width="11.10" height="8.25" fill="#fcc3a8"/>
<rect x="124.20" y="83.51" width="11.10" height="8.25" fill="#fff4ee"/>
<rect x="135.00" y="83.51" width="11.10" height="8.25" fill="#fdddcb"/>
<rect x="91.80" y="91.46" width="11.10" height="8.25" fill="#fcc3a8"/>
<rect x="102.60" y="91.46" width="11.10" height="8.25" fill="#fcc3a8"/>
<rect x="113.40" y="91.46" width="11.10" height="8.25" fill="#fdddcb"/>
<rect x="124.20" y="91.46" width="11.10" height="8.25" fill="#fcc3a8"/>
<rect x="135.00" y="91.46" width="11.10" height="8.25" fill="#fcc3a8"/>
<rect x="16.20" y="99.41" width="11.10" height="8.25" fill="#fdddcb"/>
<rect x="27.00" y="99.41" width="11.10" height="8.25" fill="#fff4ee"/>
<rect x="59.40" y="99.41" width="11.10" height="8.25" fill="#fff4ee"/>
<rect x="70.20" y="99.41" width="11.10" height="8.25" fill="#fff4ee"/>
<rect x="81.00" y="99.41" width="11.10" height="8.25" fill="#fcc3a8"/>
<rect x="91.80" y="99.41" width="11.10" height="8.25" fill="#fba583"/>
<rect x="102.60" y="99.41" width="11.10" height="8.25" fill="#fcc3a8"/>
<rect x="113.40" y="99.41" width="11.10" height="8.25" fill="#fba583"/>
<rect x="124.20" y="99.41" width="11.10" height="8.25" fill="#fdddcb"/>
<rect x="16.20" y="107.36" width="11.10" height="8.25" fill="#fcc3a8"/>
<rect x="27.00" y="107.36" width="11.10" height="8.25" fill="#fcc3a8"/>
<rect x="59.40" y="107.36" width="11.10" height="8.25" fill="#fcc3a8"/>
<rect x="70.20" y="107.36" width="11.10" height="8.25" fill="#c02b27"/>
<rect x="81.00" y="107.36" width="11.10" height="8.25" fill="#fba583"/>
<rect x="91.80" y="107.36" width="11.10" height="8.25" fill="#fba583"/>
<rect x="102.60" y="107.36" width="11.10" height="8.25" fill="#fcc3a8"/>
<rect x="113.40" y="107.36" width="11.10" height="8.25" fill="#fdddcb"/>
<rect x="124.20" y="107.36" width="11.10" height="8.25" fill="#fdddcb"/>
<rect x="135.00" y="107.36" width="11.10" height="8.25" fill="#d4e6f3"/>
<rect x="145.80" y="107.36" width="11.10" height="8.25" fill="#fdddcb"/>
<rect x="156.60" y="107.36" width="11.10" height="8.25" fill="#fdddcb"/>
<rect x="16.20" y="115.32" width="11.10" height="8.25" fill="#fcc3a8"/>
<rect x="27.00" y="115.32" width="11.10" height="8.25" fill="#fcc3a8"/>
<rect x="37.80" y="115.32" width="11.10" height="8.25" fill="#b4d5ea"/>
<rect x="59.40" y="115.32" width="11.10" height="8.25" fill="#fdddcb"/>
<rect x="70.20" y="115.32" width="11.10" height="8.25" fill="#fdddcb"/>
<rect x="81.00" y="115.32" width="11.10" height="8.25" fill="#fcc3a8"/>
<rect x="102.60" y="115.32" width="11.10" height="8.25" fill="#fdddcb"/>
<rect x="113.40" y="115.32" width="11.10" height="8.25" fill="#fdddcb"/>
<rect x="124.20" y="115.32" width="11.10" height="8.25" fill="#fdddcb"/>
<rect x="135.00" y="115.32" width="11.10" height="8.25" fill="#fdddcb"/>
<rect x="145.80" y="115.32" width="11.10" height="8.25" fill="#fdddcb"/>
<rect x="156.60" y="115.32" width="11.10" height="8.25" fill="#fcc3a8"/>
<rect x="16.20" y="123.27" width="11.10" height="8.25" fill="#d4e6f3"/>
<rect x="27.00" y="123.27" width="11.10" height="8.25" fill="#fdddcb"/>
<rect x="37.80" y="123.27" width="11.10" height="8.25" fill="#fcc3a8"/>
<rect x="48.60" y="123.27" width="11.10" height="8.25" fill="#fcc3a8"/>
<rect x="59.40" y="123.27" width="11.10" height="8.25" fill="#fcc3a8"/>
<rect x="70.20" y="123.27" width="11.10" height="8.25" fill="#fff4ee"/>
<rect x="102.60" y="123.27" width="11.10" height="8.25" fill="#fdddcb"/>
<rect x="113.40" y="123.27" width="11.10" height="8.25" fill="#fdddcb"/>
<rect x="124.20" y="123.27" width="11.10" height="8.25" fill="#fdddcb"/>
<rect x="135.00" y="123.27" width="11.10" height="8.25" fill="#fff4ee"/>
<rect x="145.80" y="123.27" width="11.10" height="8.25" fill="#fdddcb"/>
<rect x="156.60" y="123.27" width="11.10" height="8.25" fill="#fdddcb"/>
<rect x="16.20" y="131.22" width="11.10" height="8.25" fill="#f2f7fc"/>
<rect x="27.00" y="131.22" width="11.10" height="8.25" fill="#fcc3a8"/>
<rect x="37.80" y="131.22" width="11.10" height="8.25" fill="#fff4ee"/>
<rect x="102.60" y="131.22" width="11.10" height="8.25" fill="#fdddcb"/>
<rect x="124.20" y="131.22" width="11.10" height="8.25" fill="#fdddcb"/>
<rect x="145.80" y="131.22" width="11.10" height="8.25" fill="#fdddcb"/>
</g>
<use href="#coast"/>
<circle cx="97.2" cy="15.9" r="1.9" fill="none" stroke="#222" stroke-width="0.8"/>
<circle cx="108.0" cy="15.9" r="1.9" fill="none" stroke="#222" stroke-width="0.8"/>
<circle cx="118.8" cy="15.9" r="1.9" fill="none" stroke="#222" stroke-width="0.8"/>
<circle cx="140.4" cy="15.9" r="1.9" fill="none" stroke="#222" stroke-width="0.8"/>
<circle cx="75.6" cy="23.9" r="1.9" fill="none" stroke="#222" stroke-width="0.8"/>
<circle cx="97.2" cy="23.9" r="1.9" fill="none" stroke="#222" stroke-width="0.8"/>
<circle cx="108.0" cy="23.9" r="1.9" fill="none" stroke="#222" stroke-width="0.8"/>
<circle cx="118.8" cy="23.9" r="1.9" fill="none" stroke="#222" stroke-width="0.8"/>
<circle cx="129.6" cy="23.9" r="1.9" fill="none" stroke="#222" stroke-width="0.8"/>
<circle cx="140.4" cy="23.9" r="1.9" fill="none" stroke="#222" stroke-width="0.8"/>
<circle cx="151.2" cy="23.9" r="1.9" fill="none" stroke="#222" stroke-width="0.8"/>
<circle cx="86.4" cy="31.8" r="1.9" fill="none" stroke="#222" stroke-width="0.8"/>
<circle cx="97.2" cy="31.8" r="1.9" fill="none" stroke="#222" stroke-width="0.8"/>
<circle cx="118.8" cy="31.8" r="1.9" fill="none" stroke="#222" stroke-width="0.8"/>
<circle cx="129.6" cy="31.8" r="1.9" fill="none" stroke="#222" stroke-width="0.8"/>
<circle cx="21.6" cy="39.8" r="1.9" fill="none" stroke="#222" stroke-width="0.8"/>
<circle cx="75.6" cy="39.8" r="1.9" fill="none" stroke="#222" stroke-width="0.8"/>
<circle cx="86.4" cy="39.8" r="1.9" fill="none" stroke="#222" stroke-width="0.8"/>
<circle cx="86.4" cy="39.8" r="1.6" fill="#111"/>
<circle cx="97.2" cy="39.8" r="1.9" fill="none" stroke="#222" stroke-width="0.8"/>
<circle cx="118.8" cy="39.8" r="1.9" fill="none" stroke="#222" stroke-width="0.8"/>
<circle cx="151.2" cy="39.8" r="1.9" fill="none" stroke="#222" stroke-width="0.8"/>
<circle cx="64.8" cy="47.7" r="1.9" fill="none" stroke="#222" stroke-width="0.8"/>
<circle cx="75.6" cy="47.7" r="1.9" fill="none" stroke="#222" stroke-width="0.8"/>
<circle cx="75.6" cy="47.7" r="1.6" fill="#111"/>
<circle cx="86.4" cy="47.7" r="1.9" fill="none" stroke="#222" stroke-width="0.8"/>
<circle cx="86.4" cy="47.7" r="1.6" fill="#111"/>
<circle cx="118.8" cy="47.7" r="1.9" fill="none" stroke="#222" stroke-width="0.8"/>
<circle cx="21.6" cy="55.7" r="1.9" fill="none" stroke="#222" stroke-width="0.8"/>
<circle cx="32.4" cy="55.7" r="1.9" fill="none" stroke="#222" stroke-width="0.8"/>
<circle cx="43.2" cy="55.7" r="1.9" fill="none" stroke="#222" stroke-width="0.8"/>
<circle cx="86.4" cy="55.7" r="1.9" fill="none" stroke="#222" stroke-width="0.8"/>
<circle cx="86.4" cy="55.7" r="1.6" fill="#111"/>
<circle cx="108.0" cy="55.7" r="1.9" fill="none" stroke="#222" stroke-width="0.8"/>
<circle cx="118.8" cy="55.7" r="1.9" fill="none" stroke="#222" stroke-width="0.8"/>
<circle cx="129.6" cy="55.7" r="1.9" fill="none" stroke="#222" stroke-width="0.8"/>
<circle cx="43.2" cy="63.6" r="1.9" fill="none" stroke="#222" stroke-width="0.8"/>
<circle cx="64.8" cy="63.6" r="1.9" fill="none" stroke="#222" stroke-width="0.8"/>
<circle cx="86.4" cy="63.6" r="1.9" fill="none" stroke="#222" stroke-width="0.8"/>
<circle cx="86.4" cy="63.6" r="1.6" fill="#111"/>
<circle cx="97.2" cy="63.6" r="1.9" fill="none" stroke="#222" stroke-width="0.8"/>
<circle cx="108.0" cy="63.6" r="1.9" fill="none" stroke="#222" stroke-width="0.8"/>
<circle cx="118.8" cy="63.6" r="1.9" fill="none" stroke="#222" stroke-width="0.8"/>
<circle cx="140.4" cy="63.6" r="1.9" fill="none" stroke="#222" stroke-width="0.8"/>
<circle cx="10.8" cy="71.6" r="1.9" fill="none" stroke="#222" stroke-width="0.8"/>
<circle cx="43.2" cy="71.6" r="1.9" fill="none" stroke="#222" stroke-width="0.8"/>
<circle cx="64.8" cy="71.6" r="1.9" fill="none" stroke="#222" stroke-width="0.8"/>
<circle cx="75.6" cy="71.6" r="1.9" fill="none" stroke="#222" stroke-width="0.8"/>
<circle cx="75.6" cy="71.6" r="1.6" fill="#111"/>
<circle cx="86.4" cy="71.6" r="1.6" fill="#111"/>
<circle cx="97.2" cy="71.6" r="1.9" fill="none" stroke="#222" stroke-width="0.8"/>
<circle cx="108.0" cy="71.6" r="1.9" fill="none" stroke="#222" stroke-width="0.8"/>
<circle cx="129.6" cy="71.6" r="1.9" fill="none" stroke="#222" stroke-width="0.8"/>
<circle cx="140.4" cy="71.6" r="1.9" fill="none" stroke="#222" stroke-width="0.8"/>
<circle cx="64.8" cy="79.5" r="1.9" fill="none" stroke="#222" stroke-width="0.8"/>
<circle cx="75.6" cy="79.5" r="1.9" fill="none" stroke="#222" stroke-width="0.8"/>
<circle cx="75.6" cy="79.5" r="1.6" fill="#111"/>
<circle cx="86.4" cy="79.5" r="1.6" fill="#111"/>
<circle cx="97.2" cy="79.5" r="1.6" fill="#111"/>
<circle cx="108.0" cy="79.5" r="1.6" fill="#111"/>
<circle cx="64.8" cy="87.5" r="1.9" fill="none" stroke="#222" stroke-width="0.8"/>
<circle cx="75.6" cy="87.5" r="1.9" fill="none" stroke="#222" stroke-width="0.8"/>
<circle cx="86.4" cy="87.5" r="1.6" fill="#111"/>
<circle cx="97.2" cy="87.5" r="1.6" fill="#111"/>
<circle cx="108.0" cy="87.5" r="1.6" fill="#111"/>
<circle cx="140.4" cy="87.5" r="1.9" fill="none" stroke="#222" stroke-width="0.8"/>
<circle cx="118.8" cy="95.4" r="1.9" fill="none" stroke="#222" stroke-width="0.8"/>
<circle cx="129.6" cy="95.4" r="1.9" fill="none" stroke="#222" stroke-width="0.8"/>
<circle cx="21.6" cy="103.4" r="1.9" fill="none" stroke="#222" stroke-width="0.8"/>
<circle cx="32.4" cy="103.4" r="1.9" fill="none" stroke="#222" stroke-width="0.8"/>
<circle cx="64.8" cy="103.4" r="1.9" fill="none" stroke="#222" stroke-width="0.8"/>
<circle cx="118.8" cy="103.4" r="1.9" fill="none" stroke="#222" stroke-width="0.8"/>
<circle cx="118.8" cy="103.4" r="1.6" fill="#111"/>
<circle cx="129.6" cy="103.4" r="1.9" fill="none" stroke="#222" stroke-width="0.8"/>
<circle cx="21.6" cy="111.3" r="1.9" fill="none" stroke="#222" stroke-width="0.8"/>
<circle cx="32.4" cy="111.3" r="1.9" fill="none" stroke="#222" stroke-width="0.8"/>
<circle cx="75.6" cy="111.3" r="1.6" fill="#111"/>
<circle cx="129.6" cy="111.3" r="1.9" fill="none" stroke="#222" stroke-width="0.8"/>
<circle cx="151.2" cy="111.3" r="1.9" fill="none" stroke="#222" stroke-width="0.8"/>
<circle cx="64.8" cy="119.3" r="1.9" fill="none" stroke="#222" stroke-width="0.8"/>
<circle cx="129.6" cy="119.3" r="1.9" fill="none" stroke="#222" stroke-width="0.8"/>
<circle cx="140.4" cy="119.3" r="1.9" fill="none" stroke="#222" stroke-width="0.8"/>
<circle cx="151.2" cy="119.3" r="1.9" fill="none" stroke="#222" stroke-width="0.8"/>
<circle cx="43.2" cy="127.2" r="1.9" fill="none" stroke="#222" stroke-width="0.8"/>
<circle cx="54.0" cy="127.2" r="1.9" fill="none" stroke="#222" stroke-width="0.8"/>
<circle cx="75.6" cy="127.2" r="1.9" fill="none" stroke="#222" stroke-width="0.8"/>
<circle cx="108.0" cy="127.2" r="1.9" fill="none" stroke="#222" stroke-width="0.8"/>
<circle cx="129.6" cy="127.2" r="1.9" fill="none" stroke="#222" stroke-width="0.8"/>
<circle cx="151.2" cy="127.2" r="1.9" fill="none" stroke="#222" stroke-width="0.8"/>
</g>
<rect x="0" y="0" width="162.0" height="135.2" fill="none" stroke="#000" stroke-width="1.1"/>
<line x1="97" y1="0" x2="97" y2="2.6" stroke="#000" stroke-width="1"/>
<line x1="14.4" y1="135.2" x2="14.4" y2="139.2" stroke="#000" stroke-width="0.8"/>
<g><text x="14.4" y="149.2" font-size="10.2" text-anchor="middle" fill="#000" stroke="#000" stroke-width="0.25">10W</text></g>
<line x1="43.2" y1="135.2" x2="43.2" y2="139.2" stroke="#000" stroke-width="0.8"/>
<g><text x="43.2" y="149.2" font-size="10.2" text-anchor="middle" fill="#000" stroke="#000" stroke-width="0.25">0</text></g>
<line x1="72.0" y1="135.2" x2="72.0" y2="139.2" stroke="#000" stroke-width="0.8"/>
<g><text x="72.0" y="149.2" font-size="10.2" text-anchor="middle" fill="#000" stroke="#000" stroke-width="0.25">10E</text></g>
<line x1="100.8" y1="135.2" x2="100.8" y2="139.2" stroke="#000" stroke-width="0.8"/>
<g><text x="100.8" y="149.2" font-size="10.2" text-anchor="middle" fill="#000" stroke="#000" stroke-width="0.25">20E</text></g>
<line x1="129.6" y1="135.2" x2="129.6" y2="139.2" stroke="#000" stroke-width="0.8"/>
<g><text x="129.6" y="149.2" font-size="10.2" text-anchor="middle" fill="#000" stroke="#000" stroke-width="0.25">30E</text></g>
<line x1="158.4" y1="135.2" x2="158.4" y2="139.2" stroke="#000" stroke-width="0.8"/>
<g><text x="158.4" y="149.2" font-size="10.2" text-anchor="middle" fill="#000" stroke="#000" stroke-width="0.25">40E</text></g>
<line x1="-4" y1="15.9" x2="0" y2="15.9" stroke="#000" stroke-width="0.8"/>
<text transform="translate(-7,15.9) rotate(-90)" font-size="10.3" text-anchor="middle" fill="#000" stroke="#000" stroke-width="0.25">70N</text>
<line x1="-4" y1="47.7" x2="0" y2="47.7" stroke="#000" stroke-width="0.8"/>
<text transform="translate(-7,47.7) rotate(-90)" font-size="10.3" text-anchor="middle" fill="#000" stroke="#000" stroke-width="0.25">60N</text>
<line x1="-4" y1="79.5" x2="0" y2="79.5" stroke="#000" stroke-width="0.8"/>
<text transform="translate(-7,79.5) rotate(-90)" font-size="10.3" text-anchor="middle" fill="#000" stroke="#000" stroke-width="0.25">50N</text>
<line x1="-4" y1="111.3" x2="0" y2="111.3" stroke="#000" stroke-width="0.8"/>
<text transform="translate(-7,111.3) rotate(-90)" font-size="10.3" text-anchor="middle" fill="#000" stroke="#000" stroke-width="0.25">40N</text>
</g>
<text transform="translate(134.5,14.2) scale(1.02,1.06)" font-size="14" font-weight="bold" text-anchor="middle" fill="#172f60">INIT</text>
<text transform="translate(321.5,14.2) scale(1.02,1.06)" font-size="14" font-weight="bold" text-anchor="middle" fill="#172f60">INIT-NoINIT</text>
<text transform="translate(514.5,14.2) scale(1.02,1.06)" font-size="14" font-weight="bold" text-anchor="middle" fill="#172f60">Residual Correlation</text>
<text x="38" y="30" font-size="15" fill="#1f3864">(a)</text>
<text x="225.5" y="29.5" font-size="15" fill="#1f3864">(b)</text>
<text x="412" y="29.5" font-size="15" fill="#1f3864">(c)</text>
<text x="36" y="201" font-size="15" fill="#1f3864">(d)</text>
<text x="226.5" y="200" font-size="15" fill="#1f3864">(e)</text>
<text x="415" y="199.3" font-size="15" fill="#1f3864">(f)</text>
<text transform=" translate(15.3,95) rotate(-90) scale(1,1.17)" font-size="13" font-weight="bold" text-anchor="middle" fill="#172f60">PET6</text>
<text transform=" translate(15.3,263) rotate(-90) scale(1,1.17)" font-size="13" font-weight="bold" text-anchor="middle" fill="#172f60">P6</text>
<rect x="175.00" y="386.4" width="16.50" height="16.4" fill="#081d49"/>
<rect x="191.20" y="386.4" width="16.50" height="16.4" fill="#0c3a80"/>
<rect x="207.40" y="386.4" width="16.50" height="16.4" fill="#1453a2"/>
<rect x="223.60" y="386.4" width="16.50" height="16.4" fill="#2268ad"/>
<rect x="239.80" y="386.4" width="16.50" height="16.4" fill="#3a84bb"/>
<rect x="256.00" y="386.4" width="16.50" height="16.4" fill="#5fa2cd"/>
<rect x="272.20" y="386.4" width="16.50" height="16.4" fill="#8dc0de"/>
<rect x="288.40" y="386.4" width="16.50" height="16.4" fill="#b4d5ea"/>
<rect x="304.60" y="386.4" width="16.50" height="16.4" fill="#d4e6f3"/>
<rect x="320.80" y="386.4" width="16.50" height="16.4" fill="#f2f7fc"/>
<rect x="337.00" y="386.4" width="16.50" height="16.4" fill="#fff4ee"/>
<rect x="353.20" y="386.4" width="16.50" height="16.4" fill="#fdddcb"/>
<rect x="369.40" y="386.4" width="16.50" height="16.4" fill="#fcc3a8"/>
<rect x="385.60" y="386.4" width="16.50" height="16.4" fill="#fba583"/>
<rect x="401.80" y="386.4" width="16.50" height="16.4" fill="#ee7e5e"/>
<rect x="418.00" y="386.4" width="16.50" height="16.4" fill="#db5039"/>
<rect x="434.20" y="386.4" width="16.50" height="16.4" fill="#c02b27"/>
<rect x="450.40" y="386.4" width="16.50" height="16.4" fill="#a5111d"/>
<rect x="466.60" y="386.4" width="16.50" height="16.4" fill="#7e0a17"/>
<rect x="482.80" y="386.4" width="16.50" height="16.4" fill="#560611"/>
<line x1="175.0" y1="402.79999999999995" x2="175.0" y2="405.29999999999995" stroke="#000" stroke-width="0.6"/>
<line x1="191.2" y1="402.79999999999995" x2="191.2" y2="405.29999999999995" stroke="#000" stroke-width="0.6"/>
<line x1="207.4" y1="402.79999999999995" x2="207.4" y2="405.29999999999995" stroke="#000" stroke-width="0.6"/>
<line x1="223.6" y1="402.79999999999995" x2="223.6" y2="405.29999999999995" stroke="#000" stroke-width="0.6"/>
<line x1="239.8" y1="402.79999999999995" x2="239.8" y2="405.29999999999995" stroke="#000" stroke-width="0.6"/>
<line x1="256.0" y1="402.79999999999995" x2="256.0" y2="405.29999999999995" stroke="#000" stroke-width="0.6"/>
<line x1="272.2" y1="402.79999999999995" x2="272.2" y2="405.29999999999995" stroke="#000" stroke-width="0.6"/>
<line x1="288.4" y1="402.79999999999995" x2="288.4" y2="405.29999999999995" stroke="#000" stroke-width="0.6"/>
<line x1="304.6" y1="402.79999999999995" x2="304.6" y2="405.29999999999995" stroke="#000" stroke-width="0.6"/>
<line x1="320.8" y1="402.79999999999995" x2="320.8" y2="405.29999999999995" stroke="#000" stroke-width="0.6"/>
<line x1="337.0" y1="402.79999999999995" x2="337.0" y2="405.29999999999995" stroke="#000" stroke-width="0.6"/>
<line x1="353.2" y1="402.79999999999995" x2="353.2" y2="405.29999999999995" stroke="#000" stroke-width="0.6"/>
<line x1="369.4" y1="402.79999999999995" x2="369.4" y2="405.29999999999995" stroke="#000" stroke-width="0.6"/>
<line x1="385.6" y1="402.79999999999995" x2="385.6" y2="405.29999999999995" stroke="#000" stroke-width="0.6"/>
<line x1="401.8" y1="402.79999999999995" x2="401.8" y2="405.29999999999995" stroke="#000" stroke-width="0.6"/>
<line x1="418.0" y1="402.79999999999995" x2="418.0" y2="405.29999999999995" stroke="#000" stroke-width="0.6"/>
<line x1="434.2" y1="402.79999999999995" x2="434.2" y2="405.29999999999995" stroke="#000" stroke-width="0.6"/>
<line x1="450.4" y1="402.79999999999995" x2="450.4" y2="405.29999999999995" stroke="#000" stroke-width="0.6"/>
<line x1="466.6" y1="402.79999999999995" x2="466.6" y2="405.29999999999995" stroke="#000" stroke-width="0.6"/>
<line x1="482.8" y1="402.79999999999995" x2="482.8" y2="405.29999999999995" stroke="#000" stroke-width="0.6"/>
<line x1="499.0" y1="402.79999999999995" x2="499.0" y2="405.29999999999995" stroke="#000" stroke-width="0.6"/>
<text transform="translate(175.0,415.4) scale(1.16,1)" font-size="11.2" text-anchor="middle" fill="#111">-1</text>
<text transform="translate(207.4,415.4) scale(1.16,1)" font-size="11.2" text-anchor="middle" fill="#111">-0.8</text>
<text transform="translate(239.8,415.4) scale(1.16,1)" font-size="11.2" text-anchor="middle" fill="#111">-0.6</text>
<text transform="translate(272.2,415.4) scale(1.16,1)" font-size="11.2" text-anchor="middle" fill="#111">-0.4</text>
<text transform="translate(304.6,415.4) scale(1.16,1)" font-size="11.2" text-anchor="middle" fill="#111">-0.2</text>
<text transform="translate(337.0,415.4) scale(1.16,1)" font-size="11.2" text-anchor="middle" fill="#111">0</text>
<text transform="translate(369.4,415.4) scale(1.16,1)" font-size="11.2" text-anchor="middle" fill="#111">0.2</text>
<text transform="translate(401.8,415.4) scale(1.16,1)" font-size="11.2" text-anchor="middle" fill="#111">0.4</text>
<text transform="translate(434.2,415.4) scale(1.16,1)" font-size="11.2" text-anchor="middle" fill="#111">0.6</text>
<text transform="translate(466.6,415.4) scale(1.16,1)" font-size="11.2" text-anchor="middle" fill="#111">0.8</text>
<text transform="translate(499.0,415.4) scale(1.16,1)" font-size="11.2" text-anchor="middle" fill="#111">1</text>
</svg></body></html>
